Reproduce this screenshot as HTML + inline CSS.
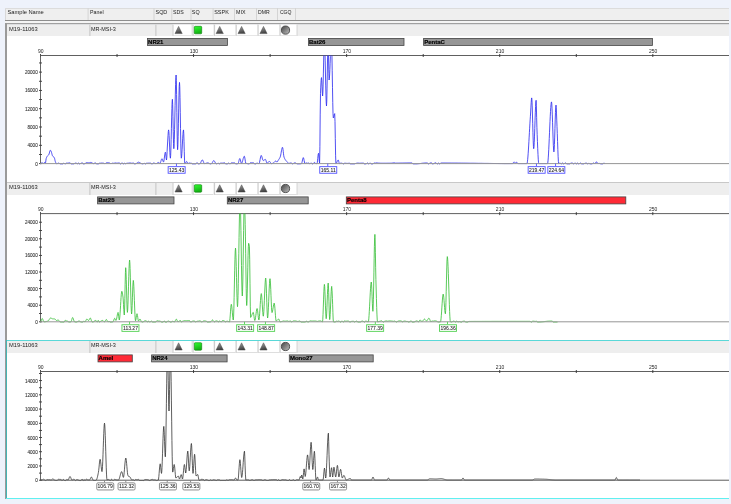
<!DOCTYPE html><html><head><meta charset="utf-8"><style>
html,body{margin:0;padding:0;background:#eef2fb;width:731px;height:504px;overflow:hidden}
svg{position:absolute;left:0;top:0;will-change:transform}
text{font-family:"Liberation Sans", sans-serif}
</style></head><body>
<svg width="731" height="504" viewBox="0 0 731 504">
<defs>
<linearGradient id="tri" x1="0.3" y1="0" x2="0.5" y2="1"><stop offset="0" stop-color="#a0a0a0"/><stop offset="1" stop-color="#3c3c3c"/></linearGradient>
<linearGradient id="grn" x1="0" y1="0" x2="0.3" y2="1"><stop offset="0" stop-color="#30ff30"/><stop offset="1" stop-color="#14b014"/></linearGradient>
<linearGradient id="cir" x1="0.2" y1="0.2" x2="0.8" y2="0.8"><stop offset="0" stop-color="#5c5c5c"/><stop offset="1" stop-color="#a8a8a8"/></linearGradient>
<clipPath id="clip0"><rect x="40" y="55.5" width="690" height="111.1"/></clipPath>
<clipPath id="clip1"><rect x="40" y="213.6" width="690" height="111.2"/></clipPath>
<clipPath id="clip2"><rect x="40" y="371.5" width="690" height="111.7"/></clipPath>
</defs>
<rect x="5" y="8" width="724" height="12" fill="#efefef"/>
<rect x="5" y="8" width="1" height="12" fill="#d8d8d8"/>
<rect x="5" y="8" width="724" height="1" fill="#dcdcdc"/>
<rect x="5" y="20" width="724" height="1" fill="#8e8e8e"/>
<rect x="5" y="21" width="724" height="2" fill="#f4f4f4"/>
<rect x="5" y="23" width="724" height="1" fill="#a0a0a0"/>
<rect x="5" y="24" width="724" height="0.6" fill="#c0c0c0"/>
<rect x="87.6" y="8" width="1" height="12" fill="#d4d4d4"/>
<rect x="153.5" y="8" width="1" height="12" fill="#d4d4d4"/>
<rect x="171.3" y="8" width="1" height="12" fill="#d4d4d4"/>
<rect x="190.5" y="8" width="1" height="12" fill="#d4d4d4"/>
<rect x="212.6" y="8" width="1" height="12" fill="#d4d4d4"/>
<rect x="234" y="8" width="1" height="12" fill="#d4d4d4"/>
<rect x="256" y="8" width="1" height="12" fill="#d4d4d4"/>
<rect x="277" y="8" width="1" height="12" fill="#d4d4d4"/>
<rect x="295" y="8" width="1" height="12" fill="#d4d4d4"/>
<text x="7.4" y="13.8" font-size="6" fill="#222" textLength="36.4" lengthAdjust="spacingAndGlyphs">Sample Name</text>
<text x="90.1" y="13.8" font-size="6" fill="#222" textLength="13.5" lengthAdjust="spacingAndGlyphs">Panel</text>
<text x="155.5" y="13.8" font-size="6" fill="#222" textLength="11.8" lengthAdjust="spacingAndGlyphs">SQD</text>
<text x="173" y="13.8" font-size="6" fill="#222" textLength="10.7" lengthAdjust="spacingAndGlyphs">SDS</text>
<text x="191.8" y="13.8" font-size="6" fill="#222" textLength="7.8" lengthAdjust="spacingAndGlyphs">SQ</text>
<text x="214.2" y="13.8" font-size="6" fill="#222" textLength="14.6" lengthAdjust="spacingAndGlyphs">SSPK</text>
<text x="236.1" y="13.8" font-size="6" fill="#222" textLength="9.5" lengthAdjust="spacingAndGlyphs">MIX</text>
<text x="258" y="13.8" font-size="6" fill="#222" textLength="11.7" lengthAdjust="spacingAndGlyphs">DMR</text>
<text x="279.9" y="13.8" font-size="6" fill="#222" textLength="11.6" lengthAdjust="spacingAndGlyphs">CGQ</text>
<rect x="7" y="24.6" width="722" height="11.6" fill="#eeeeee"/><rect x="89.4" y="24.6" width="1" height="11.6" fill="#c4c4c4"/><rect x="155.4" y="24.6" width="1" height="11.6" fill="#c4c4c4"/><rect x="172.7" y="24.6" width="18.5" height="11.6" fill="#ffffff"/><rect x="172.5" y="24.6" width="1" height="11.6" fill="#c8c8c8"/><rect x="172.7" y="35.4" width="18.5" height="0.8" fill="#d6d6d6"/><rect x="192.8" y="24.6" width="20.4" height="11.6" fill="#ffffff"/><rect x="192.6" y="24.6" width="1" height="11.6" fill="#c8c8c8"/><rect x="192.8" y="35.4" width="20.4" height="0.8" fill="#d6d6d6"/><rect x="214.3" y="24.6" width="21" height="11.6" fill="#ffffff"/><rect x="214.1" y="24.6" width="1" height="11.6" fill="#c8c8c8"/><rect x="214.3" y="35.4" width="21" height="0.8" fill="#d6d6d6"/><rect x="235.9" y="24.6" width="21.3" height="11.6" fill="#ffffff"/><rect x="235.7" y="24.6" width="1" height="11.6" fill="#c8c8c8"/><rect x="235.9" y="35.4" width="21.3" height="0.8" fill="#d6d6d6"/><rect x="257.8" y="24.6" width="21.3" height="11.6" fill="#ffffff"/><rect x="257.6" y="24.6" width="1" height="11.6" fill="#c8c8c8"/><rect x="257.8" y="35.4" width="21.3" height="0.8" fill="#d6d6d6"/><rect x="279.8" y="24.6" width="16.8" height="11.6" fill="#ffffff"/><rect x="279.6" y="24.6" width="1" height="11.6" fill="#c8c8c8"/><rect x="279.8" y="35.4" width="16.8" height="0.8" fill="#d6d6d6"/><rect x="296.6" y="24.6" width="1" height="11.6" fill="#d8d8d8"/><text x="9.1" y="30.5" font-size="6" fill="#222" textLength="28.6" lengthAdjust="spacingAndGlyphs">M19-11063</text><text x="90.9" y="30.5" font-size="6" fill="#222" textLength="25" lengthAdjust="spacingAndGlyphs">MR-MSI-3</text><path d="M178.6 26.4 L182.2 33.6 L175 33.6 Z" fill="url(#tri)" stroke="#4a4a4a" stroke-width="0.5" stroke-linejoin="round"/><rect x="194.3" y="26.3" width="7.4" height="7.5" rx="0.9" fill="url(#grn)" stroke="#0a7a0a" stroke-width="0.6"/><path d="M219.7 26.4 L223.3 33.6 L216.1 33.6 Z" fill="url(#tri)" stroke="#4a4a4a" stroke-width="0.5" stroke-linejoin="round"/><path d="M241.6 26.4 L245.2 33.6 L238 33.6 Z" fill="url(#tri)" stroke="#4a4a4a" stroke-width="0.5" stroke-linejoin="round"/><path d="M263.5 26.4 L267.1 33.6 L259.9 33.6 Z" fill="url(#tri)" stroke="#4a4a4a" stroke-width="0.5" stroke-linejoin="round"/><circle cx="285.5" cy="30.1" r="4.1" fill="url(#cir)" stroke="#454545" stroke-width="0.9"/>
<rect x="7" y="36" width="722" height="146" fill="#fff"/>
<rect x="147.5" y="38.4" width="79.9" height="7" fill="#969696" stroke="#444" stroke-width="0.8"/><text x="148.1" y="43.9" font-size="6" font-weight="bold" fill="#000" stroke="#000" stroke-width="0.15">NR21</text><rect x="308.4" y="38.4" width="95.6" height="7" fill="#969696" stroke="#444" stroke-width="0.8"/><text x="309" y="43.9" font-size="6" font-weight="bold" fill="#000" stroke="#000" stroke-width="0.15">Bat26</text><rect x="423.6" y="38.4" width="228.8" height="7" fill="#969696" stroke="#444" stroke-width="0.8"/><text x="424.2" y="43.9" font-size="6" font-weight="bold" fill="#000" stroke="#000" stroke-width="0.15">PentaC</text><rect x="40" y="55" width="689" height="1" fill="#606060"/><rect x="40.05" y="54" width="0.9" height="3" fill="#333"/><text x="40.8" y="53.3" font-size="5" fill="#222" text-anchor="middle">90</text><rect x="116.59" y="54" width="0.9" height="3" fill="#333"/><rect x="193.13" y="54" width="0.9" height="3" fill="#333"/><text x="193.88" y="53.3" font-size="5" fill="#222" text-anchor="middle">130</text><rect x="269.67" y="54" width="0.9" height="3" fill="#333"/><rect x="346.21" y="54" width="0.9" height="3" fill="#333"/><text x="346.96" y="53.3" font-size="5" fill="#222" text-anchor="middle">170</text><rect x="422.75" y="54" width="0.9" height="3" fill="#333"/><rect x="499.29" y="54" width="0.9" height="3" fill="#333"/><text x="500.04" y="53.3" font-size="5" fill="#222" text-anchor="middle">210</text><rect x="575.83" y="54" width="0.9" height="3" fill="#333"/><rect x="652.37" y="54" width="0.9" height="3" fill="#333"/><text x="653.12" y="53.3" font-size="5" fill="#222" text-anchor="middle">250</text><rect x="40" y="55" width="0.9" height="109.1" fill="#555"/><rect x="39" y="163.15" width="3" height="0.9" fill="#3a3a3a"/><text x="35.14" y="165.6" font-size="5.6" fill="#2a2a2a" stroke="#2a2a2a" stroke-width="0.08" textLength="2.56" lengthAdjust="spacingAndGlyphs">0</text><rect x="39" y="154" width="3" height="0.9" fill="#3a3a3a"/><rect x="39" y="144.85" width="3" height="0.9" fill="#3a3a3a"/><text x="27.46" y="147.3" font-size="5.6" fill="#2a2a2a" stroke="#2a2a2a" stroke-width="0.08" textLength="10.24" lengthAdjust="spacingAndGlyphs">4000</text><rect x="39" y="135.7" width="3" height="0.9" fill="#3a3a3a"/><rect x="39" y="126.55" width="3" height="0.9" fill="#3a3a3a"/><text x="27.46" y="129" font-size="5.6" fill="#2a2a2a" stroke="#2a2a2a" stroke-width="0.08" textLength="10.24" lengthAdjust="spacingAndGlyphs">8000</text><rect x="39" y="117.4" width="3" height="0.9" fill="#3a3a3a"/><rect x="39" y="108.25" width="3" height="0.9" fill="#3a3a3a"/><text x="24.9" y="110.7" font-size="5.6" fill="#2a2a2a" stroke="#2a2a2a" stroke-width="0.08" textLength="12.8" lengthAdjust="spacingAndGlyphs">12000</text><rect x="39" y="99.1" width="3" height="0.9" fill="#3a3a3a"/><rect x="39" y="89.95" width="3" height="0.9" fill="#3a3a3a"/><text x="24.9" y="92.4" font-size="5.6" fill="#2a2a2a" stroke="#2a2a2a" stroke-width="0.08" textLength="12.8" lengthAdjust="spacingAndGlyphs">16000</text><rect x="39" y="80.8" width="3" height="0.9" fill="#3a3a3a"/><rect x="39" y="71.65" width="3" height="0.9" fill="#3a3a3a"/><text x="24.9" y="74.1" font-size="5.6" fill="#2a2a2a" stroke="#2a2a2a" stroke-width="0.08" textLength="12.8" lengthAdjust="spacingAndGlyphs">20000</text><rect x="39" y="62.5" width="3" height="0.9" fill="#3a3a3a"/><polyline clip-path="url(#clip0)" points="40.5,163.6 40.75,163.54 41,163.39 41.25,163.2 41.5,163.01 41.75,162.86 42,162.8 42.25,162.84 42.5,162.96 42.75,163.1 43,163.24 43.25,163.36 43.5,163.4 43.77,163.26 44.05,162.95 44.33,162.64 44.6,162.5 44.87,162.68 45.13,163.02 45.4,163.2 45.67,162.17 45.93,160.09 46.2,158.5 46.48,157.73 46.75,157.11 47.02,156.62 47.3,156.2 47.55,155.89 47.8,155.64 48.05,155.42 48.3,155.2 48.55,154.93 48.8,154.6 49.07,153.99 49.33,153.1 49.6,152.09 49.87,151.16 50.13,150.47 50.4,150.2 50.75,150.53 51.1,151.2 51.35,151.83 51.6,152.7 51.85,153.68 52.1,154.64 52.35,155.45 52.6,156 52.88,156.35 53.17,156.58 53.45,156.77 53.73,156.97 54.02,157.22 54.3,157.6 54.55,158.31 54.8,159.43 55.05,160.6 55.3,161.5 55.57,162.19 55.85,162.8 56.12,163.29 56.4,163.6 56.7,163.81 57,163.9 57.26,163.77 57.51,163.49 57.77,163.21 58.02,163.08 58.34,163.09 58.66,163.12 58.98,163.17 59.28,163.31 59.58,163.56 59.87,163.8 60.17,163.9 60.43,163.9 60.69,163.9 60.96,163.9 61.22,163.9 61.48,163.9 61.79,163.9 62.1,163.9 62.41,163.9 62.72,163.9 63.05,163.73 63.37,163.43 63.7,163.26 63.96,163.31 64.22,163.43 64.48,163.58 64.74,163.73 65,163.85 65.26,163.9 65.53,163.77 65.8,163.5 66.07,163.22 66.34,163.1 66.62,163.1 66.89,163.11 67.16,163.12 67.44,163.13 67.72,163.14 67.99,163.14 68.29,163.09 68.6,162.98 68.91,162.87 69.21,162.82 69.52,162.83 69.84,162.86 70.15,162.91 70.43,163.1 70.72,163.43 71,163.76 71.28,163.9 71.53,163.9 71.78,163.9 72.03,163.9 72.28,163.9 72.54,163.9 72.8,163.9 73.06,163.9 73.31,163.9 73.57,163.9 73.83,163.9 74.1,163.82 74.37,163.61 74.65,163.37 74.92,163.17 75.19,163.09 75.49,163.09 75.79,163.11 76.09,163.13 76.39,163.16 76.71,163.37 77.02,163.72 77.34,163.9 77.61,163.77 77.88,163.48 78.14,163.19 78.41,163.06 78.72,163.19 79.03,163.48 79.34,163.77 79.65,163.9 79.92,163.84 80.2,163.71 80.47,163.53 80.75,163.36 81.02,163.24 81.3,163.14 81.59,163.06 81.88,162.99 82.16,162.96 82.45,163.06 82.74,163.29 83.04,163.57 83.33,163.8 83.62,163.9 83.9,163.88 84.17,163.84 84.45,163.77 84.72,163.69 85,163.6 85.25,163.47 85.5,163.27 85.75,163.04 86,162.82 86.25,162.66 86.5,162.6 86.75,162.61 87,162.62 87.25,162.64 87.5,162.67 87.75,162.7 88,162.73 88.25,162.76 88.5,162.78 88.75,162.79 89,162.8 89.25,162.78 89.5,162.74 89.75,162.67 90,162.6 90.25,162.53 90.5,162.46 90.75,162.42 91,162.4 91.25,162.43 91.5,162.52 91.75,162.66 92,162.82 92.25,163 92.5,163.18 92.75,163.34 93,163.48 93.25,163.57 93.5,163.6 93.76,163.56 94.02,163.46 94.28,163.32 94.54,163.18 94.8,163.04 95.06,162.94 95.32,162.9 95.62,163 95.91,163.25 96.21,163.55 96.5,163.8 96.8,163.9 97.08,163.9 97.36,163.9 97.64,163.9 97.93,163.9 98.21,163.9 98.49,163.9 98.8,163.76 99.1,163.45 99.41,163.14 99.72,162.99 99.97,163.03 100.23,163.1 100.48,163.18 100.74,163.21 101.05,163.17 101.37,163.1 101.68,163.07 101.93,163.07 102.18,163.08 102.44,163.09 102.69,163.1 102.94,163.12 103.19,163.14 103.45,163.18 103.71,163.25 103.97,163.34 104.22,163.44 104.48,163.52 104.74,163.58 105,163.6 105.25,163.56 105.5,163.44 105.75,163.28 106,163.1 106.25,162.92 106.5,162.76 106.75,162.64 107,162.6 107.25,162.6 107.5,162.62 107.75,162.64 108,162.66 108.25,162.69 108.5,162.72 108.75,162.76 109,162.8 109.25,162.87 109.5,162.97 109.75,163.1 110,163.24 110.25,163.38 110.5,163.49 110.75,163.57 111,163.6 111.29,163.56 111.58,163.45 111.88,163.33 112.17,163.23 112.46,163.18 112.73,163.19 113,163.22 113.28,163.25 113.55,163.27 113.82,163.28 114.08,163.26 114.34,163.19 114.6,163.11 114.87,163.03 115.13,162.96 115.39,162.94 115.65,162.96 115.9,163.01 116.16,163.07 116.41,163.11 116.67,163.14 116.99,163.13 117.3,163.12 117.62,163.11 117.9,163.08 118.19,163.03 118.47,162.97 118.76,162.92 119.04,162.9 119.3,162.98 119.56,163.16 119.82,163.4 120.08,163.64 120.34,163.83 120.6,163.9 120.9,163.78 121.2,163.52 121.5,163.25 121.8,163.13 122.11,163.15 122.41,163.21 122.72,163.28 122.98,163.41 123.24,163.62 123.5,163.81 123.76,163.9 124.07,163.68 124.39,163.28 124.7,163.06 124.95,163.19 125.2,163.48 125.46,163.77 125.71,163.9 126.01,163.76 126.31,163.45 126.62,163.13 126.92,162.99 127.24,163.07 127.56,163.21 127.88,163.29 128.15,163.25 128.42,163.18 128.68,163.09 128.95,163.01 129.22,162.98 129.48,162.98 129.74,162.98 130,162.98 130.26,162.99 130.52,162.99 130.78,163 131.06,163.05 131.34,163.15 131.62,163.26 131.9,163.31 132.2,163.26 132.5,163.15 132.79,163.03 133.09,162.98 133.37,163.05 133.65,163.22 133.93,163.44 134.2,163.66 134.48,163.83 134.76,163.9 135.07,163.87 135.38,163.8 135.69,163.7 136,163.6 136.25,163.5 136.5,163.35 136.75,163.18 137,162.99 137.25,162.8 137.5,162.62 137.75,162.45 138,162.32 138.25,162.23 138.5,162.2 138.75,162.22 139,162.29 139.25,162.38 139.5,162.5 139.75,162.65 140,162.8 140.25,162.96 140.5,163.12 140.75,163.27 141,163.4 141.25,163.52 141.5,163.6 141.75,163.67 142,163.74 142.25,163.8 142.5,163.85 142.75,163.89 143,163.9 143.27,163.8 143.55,163.58 143.82,163.36 144.09,163.26 144.36,163.33 144.64,163.49 144.91,163.67 145.19,163.83 145.46,163.9 145.76,163.76 146.06,163.48 146.36,163.31 146.66,163.27 146.96,163.24 147.26,163.22 147.56,163.2 147.84,163.18 148.11,163.16 148.39,163.15 148.67,163.13 148.94,163.12 149.22,163.12 149.48,163.12 149.74,163.13 150.01,163.14 150.27,163.15 150.53,163.17 150.82,163.26 151.11,163.44 151.39,163.65 151.68,163.83 151.97,163.9 152.24,163.84 152.51,163.68 152.78,163.48 153.05,163.27 153.32,163.12 153.59,163.05 153.86,163.07 154.13,163.12 154.39,163.2 154.66,163.28 154.93,163.37 155.2,163.46 155.46,163.53 155.73,163.58 156,163.6 156.25,163.57 156.5,163.49 156.75,163.36 157,163.21 157.25,163.05 157.5,162.89 157.75,162.74 158,162.61 158.25,162.53 158.5,162.5 158.75,162.57 159,162.73 159.25,162.95 159.5,163.17 159.75,163.33 160,163.4 160.27,163.14 160.54,162.47 160.81,161.55 161.09,160.55 161.36,159.63 161.63,158.96 161.9,158.7 162.17,158.94 162.43,159.56 162.7,160.35 162.97,161.14 163.23,161.76 163.5,162 163.77,161.46 164.04,160.06 164.31,158.14 164.59,156.06 164.86,154.14 165.13,152.74 165.4,152.2 165.68,153.42 165.95,156.1 166.22,158.78 166.5,160 166.8,157.33 167.1,151.56 167.4,146 167.7,141.04 168,135.78 168.3,131.6 168.6,129.9 168.86,131.47 169.11,135.51 169.37,141.04 169.63,147.06 169.89,152.59 170.14,156.63 170.4,158.2 170.65,155.67 170.9,149 171.15,139.56 171.4,128.75 171.65,117.94 171.9,108.5 172.15,101.83 172.4,99.3 172.68,104.44 172.96,116.69 173.24,131.31 173.52,143.56 173.8,148.7 174.06,146.17 174.31,139.4 174.57,129.59 174.82,117.97 175.08,105.73 175.33,94.11 175.59,84.3 175.84,77.53 176.1,75 176.35,80.53 176.6,94.37 176.85,112.35 177.1,130.33 177.35,144.17 177.6,149.7 177.87,145.97 178.14,136.36 178.41,123.21 178.69,108.89 178.96,95.74 179.23,86.13 179.5,82.4 179.76,86.6 180.01,97.43 180.27,112.23 180.53,128.37 180.79,143.17 181.04,154 181.3,158.2 181.58,156.98 181.85,153.78 182.12,149.25 182.4,144.05 182.68,138.85 182.95,134.32 183.22,131.12 183.5,129.9 183.76,133.4 184.02,141.76 184.28,151.74 184.54,160.1 184.8,163.6 185.07,163.48 185.34,163.18 185.61,162.77 185.89,162.33 186.16,161.92 186.43,161.62 186.7,161.5 186.96,161.72 187.22,162.24 187.48,162.86 187.74,163.38 188,163.6 188.25,163.49 188.5,163.24 188.75,162.99 189,162.88 189.3,162.94 189.61,163.06 189.91,163.18 190.21,163.24 190.54,163.19 190.87,163.08 191.2,163.03 191.52,163.25 191.83,163.67 192.15,163.9 192.42,163.9 192.68,163.9 192.94,163.9 193.21,163.9 193.5,163.9 193.8,163.9 194.09,163.9 194.39,163.9 194.69,163.9 194.99,163.9 195.29,163.9 195.62,163.78 195.94,163.52 196.27,163.27 196.58,163.08 196.88,162.89 197.19,162.81 197.47,162.93 197.75,163.2 198.02,163.52 198.3,163.79 198.58,163.9 198.86,163.88 199.15,163.84 199.43,163.78 199.72,163.7 200,163.6 200.26,163.4 200.51,163.02 200.77,162.52 201.02,161.95 201.28,161.35 201.53,160.8 201.79,160.34 202.04,160.02 202.3,159.9 202.58,160.06 202.85,160.48 203.12,161.07 203.4,161.75 203.68,162.43 203.95,163.02 204.22,163.44 204.5,163.6 204.78,163.59 205.06,163.55 205.34,163.49 205.62,163.43 205.9,163.35 206.18,163.27 206.43,163.16 206.68,163.02 206.93,162.89 207.18,162.84 207.46,162.85 207.74,162.89 208.03,162.94 208.31,163.01 208.59,163.1 208.87,163.18 209.13,163.31 209.39,163.49 209.64,163.68 209.9,163.84 210.16,163.9 210.43,163.88 210.7,163.84 210.96,163.78 211.23,163.69 211.5,163.6 211.76,163.42 212.01,163.11 212.27,162.7 212.52,162.24 212.78,161.76 213.03,161.32 213.29,160.95 213.54,160.69 213.8,160.6 214.08,160.72 214.35,161.02 214.62,161.46 214.9,161.97 215.18,162.5 215.45,162.99 215.72,163.38 216,163.6 216.25,163.71 216.5,163.81 216.75,163.87 217,163.9 217.28,163.74 217.56,163.38 217.83,163.02 218.11,162.85 218.37,163.02 218.62,163.38 218.88,163.74 219.14,163.9 219.42,163.84 219.69,163.7 219.97,163.52 220.25,163.33 220.52,163.19 220.8,163.12 221.06,163.12 221.31,163.11 221.56,163.11 221.82,163.11 222.13,163.11 222.43,163.12 222.74,163.12 223.02,163.1 223.3,163.05 223.58,162.97 223.86,162.9 224.14,162.85 224.42,162.82 224.71,162.94 225,163.2 225.3,163.52 225.59,163.79 225.88,163.9 226.18,163.9 226.47,163.9 226.77,163.9 227.07,163.9 227.32,163.84 227.58,163.7 227.83,163.51 228.08,163.32 228.34,163.18 228.59,163.12 228.84,163.18 229.1,163.32 229.35,163.51 229.6,163.7 229.86,163.84 230.11,163.9 230.38,163.74 230.65,163.39 230.92,163.04 231.19,162.87 231.47,162.86 231.75,162.85 232.03,162.84 232.32,162.84 232.6,162.83 232.88,162.83 233.14,162.83 233.4,162.84 233.66,162.84 233.91,162.85 234.17,162.85 234.43,162.86 234.73,162.98 235.03,163.24 235.32,163.54 235.62,163.79 235.92,163.9 236.18,163.9 236.44,163.88 236.7,163.86 236.96,163.82 237.22,163.78 237.48,163.73 237.74,163.67 238,163.6 238.26,163.26 238.51,162.52 238.77,161.52 239.03,160.45 239.29,159.48 239.54,158.77 239.8,158.5 240.08,158.86 240.37,159.77 240.65,160.95 240.93,162.13 241.22,163.04 241.5,163.4 241.75,163.23 242.01,162.77 242.26,162.09 242.52,161.24 242.77,160.29 243.03,159.31 243.28,158.36 243.54,157.51 243.79,156.83 244.05,156.37 244.3,156.2 244.58,156.75 244.87,158.12 245.15,159.9 245.43,161.68 245.72,163.05 246,163.6 246.25,163.55 246.5,163.44 246.75,163.33 247,163.28 247.31,163.44 247.61,163.74 247.92,163.9 248.2,163.9 248.49,163.9 248.77,163.9 249.05,163.9 249.34,163.78 249.63,163.49 249.92,163.15 250.21,162.86 250.5,162.74 250.75,162.74 251,162.75 251.26,162.75 251.51,162.75 251.76,162.76 252.04,162.76 252.32,162.75 252.6,162.75 252.89,162.74 253.17,162.74 253.45,162.74 253.75,162.92 254.04,163.32 254.34,163.72 254.64,163.9 254.91,163.9 255.18,163.9 255.45,163.9 255.72,163.9 255.99,163.77 256.25,163.47 256.52,163.17 256.79,163.04 257.07,163.06 257.34,163.13 257.62,163.22 257.89,163.32 258.17,163.42 258.45,163.51 258.72,163.58 259,163.6 259.27,163.25 259.55,162.32 259.82,161.01 260.1,159.5 260.38,157.99 260.65,156.68 260.93,155.75 261.2,155.4 261.45,155.62 261.7,156.2 261.95,157.01 262.2,157.95 262.45,158.89 262.7,159.7 262.95,160.28 263.2,160.5 263.47,160.45 263.75,160.33 264.02,160.15 264.3,159.95 264.57,159.75 264.85,159.57 265.12,159.45 265.4,159.4 265.67,159.67 265.93,160.33 266.2,161.2 266.47,162.07 266.73,162.73 267,163 267.25,162.96 267.5,162.84 267.75,162.68 268,162.47 268.25,162.25 268.5,162.03 268.75,161.82 269,161.66 269.25,161.54 269.5,161.5 269.75,161.59 270,161.83 270.25,162.16 270.5,162.55 270.75,162.94 271,163.27 271.25,163.51 271.5,163.6 271.75,163.58 272,163.53 272.25,163.46 272.5,163.36 272.75,163.24 273,163.1 273.25,162.96 273.5,162.81 273.75,162.65 274,162.5 274.28,162.27 274.57,161.96 274.85,161.62 275.13,161.31 275.42,161.09 275.7,161 275.96,161.1 276.22,161.35 276.48,161.65 276.74,161.9 277,162 277.28,161.86 277.56,161.5 277.84,161.01 278.12,160.48 278.4,160 278.66,159.62 278.91,159.25 279.17,158.88 279.43,158.48 279.69,158.05 279.94,157.56 280.2,157 280.46,156.19 280.71,155.05 280.97,153.69 281.22,152.21 281.48,150.75 281.73,149.41 281.99,148.32 282.24,147.57 282.5,147.3 282.75,147.91 283,149.48 283.25,151.58 283.5,153.81 283.75,155.75 284,157 284.25,157.7 284.5,158.3 284.75,158.8 285,159.24 285.25,159.63 285.5,160 285.76,160.35 286.01,160.67 286.27,160.96 286.53,161.23 286.79,161.49 287.04,161.74 287.3,162 287.58,162.32 287.87,162.67 288.15,163.02 288.43,163.31 288.72,163.52 289,163.6 289.25,163.49 289.5,163.26 289.75,163.03 290,162.93 290.26,162.94 290.51,162.96 290.77,162.99 291.02,163.03 291.28,163.08 291.54,163.17 291.79,163.33 292.05,163.53 292.31,163.71 292.56,163.85 292.82,163.9 293.11,163.79 293.39,163.54 293.68,163.23 293.96,162.98 294.25,162.87 294.5,162.88 294.76,162.89 295.01,162.91 295.27,162.93 295.52,162.96 295.78,163 296.04,163.12 296.29,163.34 296.55,163.6 296.8,163.81 297.06,163.9 297.31,163.9 297.57,163.9 297.82,163.9 298.08,163.9 298.33,163.9 298.59,163.9 298.85,163.9 299.12,163.89 299.38,163.88 299.65,163.86 299.91,163.84 300.18,163.81 300.44,163.78 300.71,163.75 300.97,163.7 301.24,163.65 301.5,163.6 301.76,163.23 302.01,162.35 302.27,161.18 302.53,159.92 302.79,158.77 303.04,157.93 303.3,157.6 303.58,158.04 303.87,159.16 304.15,160.6 304.43,162.04 304.72,163.16 305,163.6 305.25,163.48 305.5,163.21 305.75,162.94 306,162.82 306.31,162.89 306.61,163.05 306.92,163.21 307.22,163.28 307.5,163.26 307.77,163.21 308.05,163.15 308.32,163.09 308.6,163.04 308.87,163.02 309.13,163.16 309.39,163.46 309.65,163.76 309.91,163.9 310.17,163.74 310.42,163.39 310.68,163.04 310.93,162.88 311.19,162.95 311.45,163.14 311.71,163.39 311.96,163.63 312.22,163.82 312.48,163.9 312.73,163.84 312.99,163.68 313.24,163.46 313.49,163.2 313.74,162.94 314,162.72 314.25,162.56 314.5,162.5 314.75,162.58 315,162.79 315.25,163.05 315.5,163.31 315.75,163.52 316,163.6 316.25,163.6 316.5,163.6 316.75,163.6 317,163.6 317.25,162.84 317.5,160.93 317.75,158.45 318,155.97 318.25,154.06 318.5,153.3 318.77,154.82 319.05,158.15 319.33,161.48 319.6,163 319.9,146.69 320.2,114.89 320.5,93.3 320.75,87.13 321,82.15 321.25,78.81 321.5,77.6 321.77,80.47 322.05,86.8 322.33,93.12 322.6,96 322.86,92.9 323.11,84.9 323.37,73.96 323.63,62.04 323.89,51.1 324.14,43.1 324.4,40 324.66,42.84 324.92,50.31 325.19,60.88 325.45,73 325.71,85.12 325.98,95.69 326.24,103.16 326.5,106 326.77,101.11 327.03,88.89 327.3,73 327.57,57.11 327.83,44.89 328.1,40 328.35,46.25 328.6,60 328.85,73.75 329.1,80 329.36,78.63 329.61,74.95 329.87,69.63 330.12,63.32 330.38,56.68 330.63,50.37 330.89,45.05 331.14,41.37 331.4,40 331.67,44.32 331.94,55.46 332.21,70.7 332.49,87.3 332.76,102.54 333.03,113.68 333.3,118 333.58,117.54 333.86,116.45 334.14,115.15 334.42,114.06 334.7,113.6 335,121.41 335.3,138.6 335.6,155.79 335.9,163.6 336.16,163.48 336.41,163.15 336.67,162.67 336.92,162.1 337.18,161.5 337.43,160.93 337.69,160.45 337.94,160.12 338.2,160 338.46,160.37 338.72,161.27 338.98,162.33 339.24,163.23 339.5,163.6 339.75,163.56 340,163.47 340.25,163.35 340.5,163.24 340.75,163.15 341,163.11 341.29,163.13 341.57,163.18 341.86,163.26 342.14,163.34 342.43,163.42 342.7,163.52 342.96,163.64 343.23,163.77 343.49,163.86 343.76,163.9 344.07,163.7 344.37,163.32 344.68,163.11 344.96,163.14 345.25,163.19 345.53,163.25 345.82,163.3 346.1,163.34 346.37,163.35 346.65,163.36 346.92,163.37 347.19,163.38 347.47,163.38 347.74,163.38 348.01,163.37 348.27,163.33 348.54,163.29 348.81,163.24 349.07,163.2 349.34,163.19 349.61,163.3 349.88,163.54 350.14,163.79 350.41,163.9 350.69,163.9 350.98,163.9 351.26,163.9 351.54,163.9 351.81,163.9 352.09,163.9 352.36,163.9 352.64,163.9 352.91,163.9 353.22,163.9 353.53,163.9 353.84,163.9 354.15,163.9 354.42,163.87 354.69,163.8 354.96,163.7 355.24,163.6 355.51,163.5 355.78,163.42 356.06,163.36 356.33,163.3 356.61,163.25 356.89,163.19 357.17,163.14 357.44,163.11 357.72,163.08 358,163.07 358.27,163.09 358.54,163.11 358.81,163.15 359.08,163.18 359.35,163.21 359.62,163.22 359.89,163.22 360.17,163.21 360.44,163.19 360.71,163.17 360.99,163.16 361.26,163.15 361.52,163.14 361.79,163.14 362.05,163.13 362.32,163.13 362.58,163.13 362.89,163.14 363.19,163.16 363.5,163.2 363.76,163.33 364.02,163.57 364.28,163.8 364.54,163.9 364.8,163.9 365.05,163.9 365.31,163.9 365.57,163.9 365.82,163.9 366.08,163.9 366.34,163.8 366.59,163.56 366.85,163.28 367.1,163.05 367.36,162.95 367.63,163.05 367.9,163.28 368.17,163.56 368.44,163.8 368.71,163.9 368.97,163.82 369.23,163.62 369.5,163.38 369.76,163.18 370.02,163.1 370.27,163.16 370.53,163.31 370.78,163.5 371.04,163.69 371.3,163.84 371.55,163.9 371.82,163.9 372.09,163.9 372.36,163.9 372.63,163.9 372.9,163.9 373.18,163.74 373.46,163.4 373.74,163.06 374.02,162.9 374.28,162.92 374.54,162.97 374.81,163.03 375.07,163.07 375.33,163.09 375.58,163.07 375.83,163.01 376.08,162.94 376.33,162.86 376.58,162.8 376.83,162.78 377.08,162.8 377.33,162.86 377.59,162.93 377.84,163 378.09,163.05 378.35,163.07 378.61,163.09 378.87,163.11 379.13,163.13 379.39,163.14 379.68,163.15 379.97,163.17 380.27,163.18 380.56,163.19 380.85,163.19 381.1,163.19 381.36,163.19 381.61,163.19 381.87,163.19 382.12,163.19 382.37,163.19 382.63,163.19 382.88,163.19 383.13,163.19 383.39,163.19 383.64,163.19 383.9,163.19 384.15,163.19 384.4,163.19 384.66,163.19 384.91,163.19 385.16,163.19 385.42,163.19 385.67,163.19 385.93,163.19 386.18,163.19 386.43,163.19 386.69,163.19 386.94,163.19 387.19,163.19 387.45,163.19 387.7,163.18 387.95,163.18 388.21,163.18 388.46,163.18 388.72,163.18 388.97,163.18 389.22,163.18 389.48,163.18 389.73,163.18 389.99,163.18 390.24,163.17 390.49,163.17 390.75,163.17 391,163.17 391.27,163.16 391.55,163.13 391.82,163.1 392.1,163.05 392.38,163.01 392.65,162.97 392.92,162.93 393.18,162.88 393.45,162.84 393.72,162.79 393.98,162.76 394.25,162.75 394.53,162.81 394.81,162.92 395.08,163.04 395.36,163.1 395.61,163.1 395.86,163.1 396.12,163.09 396.37,163.09 396.62,163.09 396.87,163.09 397.12,163.09 397.38,163.09 397.63,163.08 397.88,163.08 398.13,163.08 398.39,163.07 398.64,163.07 398.89,163.07 399.14,163.06 399.39,163.06 399.65,163.05 399.9,163.05 400.15,163.05 400.4,163.04 400.65,163.04 400.91,163.03 401.16,163.03 401.41,163.02 401.66,163.02 401.92,163.01 402.17,163 402.42,163 402.67,162.99 402.92,162.99 403.18,162.98 403.43,162.98 403.68,162.97 403.93,162.96 404.18,162.96 404.44,162.95 404.69,162.95 404.94,162.94 405.19,162.94 405.44,162.93 405.7,162.93 405.95,162.92 406.2,162.91 406.45,162.91 406.71,162.9 406.96,162.9 407.21,162.89 407.46,162.89 407.71,162.89 407.97,162.88 408.22,162.88 408.47,162.87 408.72,162.87 408.97,162.87 409.23,162.86 409.48,162.86 409.73,162.86 409.98,162.85 410.24,162.85 410.49,162.85 410.74,162.85 410.99,162.85 411.24,162.85 411.5,162.84 411.75,162.84 412,162.84 412.25,163.01 412.5,163.37 412.76,163.74 413.01,163.9 413.26,163.9 413.51,163.9 413.76,163.9 414.01,163.9 414.26,163.9 414.53,163.9 414.81,163.9 415.09,163.9 415.36,163.9 415.61,163.9 415.87,163.89 416.12,163.89 416.37,163.88 416.63,163.87 416.88,163.85 417.13,163.84 417.38,163.82 417.64,163.8 417.89,163.78 418.14,163.75 418.4,163.73 418.65,163.7 418.9,163.68 419.16,163.65 419.41,163.62 419.66,163.59 419.91,163.56 420.17,163.53 420.42,163.5 420.67,163.46 420.93,163.43 421.18,163.4 421.43,163.36 421.69,163.33 421.94,163.3 422.19,163.27 422.45,163.24 422.7,163.2 422.95,163.17 423.2,163.15 423.46,163.12 423.71,163.09 423.96,163.06 424.22,163.04 424.47,163.02 424.72,162.99 424.98,162.98 425.23,162.96 425.48,162.94 425.73,162.93 425.99,162.92 426.24,162.91 426.49,162.9 426.75,162.9 427,162.89 427.27,162.97 427.54,163.16 427.81,163.4 428.08,163.64 428.35,163.83 428.62,163.9 428.91,163.82 429.21,163.63 429.5,163.38 429.8,163.15 430.09,163.01 430.34,162.93 430.6,162.87 430.85,162.82 431.1,162.81 431.38,162.89 431.66,163.09 431.94,163.35 432.22,163.62 432.5,163.82 432.78,163.9 433.06,163.87 433.33,163.78 433.61,163.65 433.89,163.51 434.16,163.37 434.44,163.24 434.7,163.12 434.96,162.98 435.21,162.85 435.47,162.75 435.73,162.71 435.99,162.8 436.25,163.02 436.51,163.3 436.78,163.59 437.04,163.81 437.3,163.9 437.61,163.78 437.92,163.52 438.23,163.26 438.54,163.14 438.83,163.26 439.12,163.52 439.42,163.78 439.71,163.9 440,163.75 440.29,163.43 440.58,163.1 440.87,162.95 441.12,162.95 441.37,162.95 441.62,162.95 441.87,162.95 442.12,162.95 442.37,162.95 442.62,162.95 442.87,162.95 443.12,162.95 443.37,162.95 443.62,162.95 443.88,162.95 444.13,162.95 444.38,162.95 444.63,162.96 444.88,162.96 445.13,162.96 445.38,162.96 445.63,162.96 445.88,162.96 446.13,162.96 446.38,162.96 446.63,162.96 446.88,162.96 447.13,162.96 447.38,162.97 447.63,162.97 447.88,162.97 448.13,162.97 448.38,162.97 448.63,162.97 448.88,162.97 449.13,162.97 449.39,162.98 449.64,162.98 449.89,162.98 450.14,162.98 450.39,162.98 450.64,162.98 450.89,162.98 451.14,162.99 451.39,162.99 451.64,162.99 451.89,162.99 452.14,162.99 452.39,163 452.64,163 452.89,163 453.14,163 453.39,163 453.64,163 453.89,163.01 454.14,163.01 454.39,163.01 454.64,163.01 454.9,163.02 455.15,163.02 455.4,163.02 455.65,163.02 455.9,163.02 456.15,163.03 456.4,163.03 456.65,163.03 456.9,163.03 457.15,163.04 457.4,163.04 457.65,163.04 457.9,163.04 458.15,163.05 458.4,163.05 458.65,163.05 458.9,163.05 459.15,163.06 459.4,163.06 459.65,163.06 459.9,163.06 460.15,163.07 460.41,163.07 460.66,163.07 460.91,163.07 461.16,163.08 461.41,163.08 461.66,163.08 461.91,163.09 462.16,163.09 462.41,163.09 462.66,163.09 462.91,163.1 463.16,163.1 463.41,163.1 463.66,163.11 463.91,163.11 464.16,163.11 464.41,163.11 464.66,163.12 464.91,163.12 465.16,163.12 465.41,163.13 465.67,163.13 465.92,163.13 466.17,163.14 466.42,163.14 466.67,163.14 466.92,163.15 467.17,163.15 467.42,163.15 467.67,163.15 467.92,163.16 468.17,163.16 468.42,163.16 468.67,163.17 468.92,163.17 469.17,163.17 469.42,163.18 469.67,163.18 469.92,163.18 470.17,163.19 470.42,163.19 470.67,163.19 470.92,163.2 471.18,163.2 471.43,163.2 471.68,163.21 471.93,163.21 472.18,163.21 472.43,163.22 472.68,163.22 472.93,163.22 473.18,163.23 473.43,163.23 473.68,163.23 473.93,163.24 474.18,163.24 474.43,163.24 474.68,163.25 474.93,163.25 475.18,163.25 475.43,163.26 475.68,163.26 475.93,163.26 476.18,163.27 476.43,163.27 476.69,163.28 476.94,163.28 477.19,163.28 477.44,163.29 477.69,163.29 477.94,163.29 478.19,163.3 478.44,163.3 478.69,163.3 478.94,163.31 479.19,163.31 479.44,163.31 479.69,163.32 479.94,163.32 480.19,163.32 480.44,163.33 480.69,163.33 480.94,163.33 481.19,163.34 481.44,163.34 481.69,163.34 481.94,163.35 482.19,163.35 482.45,163.35 482.7,163.36 482.95,163.36 483.2,163.36 483.45,163.37 483.7,163.37 483.95,163.37 484.2,163.38 484.45,163.38 484.7,163.38 484.95,163.39 485.2,163.39 485.45,163.39 485.7,163.4 485.95,163.4 486.2,163.4 486.45,163.4 486.7,163.41 486.95,163.41 487.2,163.41 487.45,163.42 487.7,163.42 487.96,163.42 488.21,163.43 488.46,163.43 488.71,163.43 488.96,163.44 489.21,163.44 489.46,163.44 489.71,163.44 489.96,163.45 490.21,163.45 490.46,163.45 490.71,163.46 490.96,163.46 491.21,163.46 491.46,163.46 491.71,163.47 491.96,163.47 492.21,163.47 492.46,163.48 492.71,163.48 492.96,163.48 493.21,163.48 493.47,163.49 493.72,163.49 493.97,163.49 494.22,163.49 494.47,163.5 494.72,163.5 494.97,163.5 495.22,163.5 495.47,163.51 495.72,163.51 495.97,163.51 496.22,163.51 496.47,163.52 496.72,163.52 496.97,163.52 497.22,163.52 497.47,163.53 497.72,163.53 497.97,163.53 498.22,163.53 498.47,163.54 498.73,163.54 498.98,163.54 499.23,163.54 499.48,163.54 499.73,163.55 499.98,163.55 500.23,163.55 500.48,163.55 500.73,163.55 500.98,163.55 501.23,163.56 501.48,163.56 501.73,163.56 501.98,163.56 502.23,163.56 502.48,163.57 502.73,163.57 502.98,163.57 503.23,163.57 503.48,163.57 503.73,163.57 503.98,163.57 504.24,163.58 504.49,163.58 504.74,163.58 504.99,163.58 505.24,163.58 505.49,163.58 505.74,163.58 505.99,163.58 506.24,163.59 506.49,163.59 506.74,163.59 506.99,163.59 507.24,163.59 507.49,163.59 507.74,163.59 507.99,163.59 508.24,163.59 508.49,163.59 508.74,163.59 508.99,163.6 509.24,163.6 509.49,163.6 509.75,163.6 510,163.6 510.25,163.6 510.5,163.6 510.75,163.6 511,163.6 511.25,163.6 511.5,163.6 511.75,163.6 512,163.6 512.25,163.6 512.5,163.6 512.75,163.48 513,163.19 513.25,162.8 513.5,162.41 513.75,162.12 514,162 514.25,162.07 514.5,162.26 514.75,162.5 515,162.74 515.25,162.93 515.5,163 515.77,162.88 516.05,162.6 516.33,162.32 516.6,162.2 516.88,162.35 517.16,162.69 517.44,163.11 517.72,163.45 518,163.6 518.25,163.6 518.51,163.6 518.76,163.6 519.02,163.6 519.27,163.6 519.53,163.6 519.78,163.6 520.03,163.6 520.29,163.6 520.54,163.6 520.8,163.6 521.05,163.6 521.31,163.6 521.56,163.6 521.81,163.6 522.07,163.6 522.32,163.6 522.58,163.6 522.83,163.6 523.09,163.6 523.34,163.6 523.59,163.6 523.85,163.6 524.1,163.6 524.36,163.6 524.61,163.6 524.87,163.6 525.12,163.6 525.37,163.6 525.63,163.6 525.88,163.6 526.14,163.6 526.39,163.6 526.65,163.6 526.9,163.6 527.15,163.14 527.4,161.82 527.65,159.75 527.9,157.03 528.15,153.75 528.4,150.03 528.65,145.96 528.9,141.64 529.15,137.17 529.4,132.66 529.65,128.21 529.9,123.91 530.15,119.88 530.4,116.2 530.66,111.99 530.92,107.17 531.18,102.61 531.44,99.23 531.7,97.9 531.95,100.08 532.2,105.84 532.45,113.97 532.7,123.3 532.95,132.63 533.2,140.76 533.45,146.52 533.7,148.7 533.97,147.04 534.23,142.59 534.5,136.15 534.77,128.52 535.03,120.48 535.3,112.85 535.57,106.41 535.83,101.96 536.1,100.3 536.37,105.8 536.63,117.3 536.9,127.3 537.17,134.37 537.44,141.52 537.71,148.33 537.99,154.37 538.26,159.21 538.53,162.43 538.8,163.6 539.06,163.6 539.31,163.6 539.57,163.6 539.82,163.6 540.08,163.6 540.34,163.6 540.59,163.6 540.85,163.6 541.1,163.6 541.36,163.6 541.61,163.6 541.87,163.6 542.13,163.6 542.38,163.6 542.64,163.6 542.89,163.6 543.15,163.6 543.41,163.6 543.66,163.6 543.92,163.6 544.17,163.6 544.43,163.6 544.69,163.6 544.94,163.6 545.2,163.6 545.45,163.6 545.71,163.6 545.96,163.6 546.22,163.6 546.48,163.6 546.73,163.6 546.99,163.6 547.24,163.6 547.5,163.6 547.75,162.91 548,160.95 548.25,157.91 548.5,153.96 548.75,149.29 549,144.08 549.25,138.5 549.5,132.75 549.75,127 550,121.42 550.25,116.21 550.5,111.54 550.75,107.59 551,104.55 551.25,102.59 551.5,101.9 551.77,103.61 552.03,108.21 552.3,114.86 552.57,122.75 552.83,131.05 553.1,138.94 553.37,145.59 553.63,150.19 553.9,151.9 554.16,149.89 554.42,144.59 554.69,137.09 554.95,128.5 555.21,119.91 555.48,112.41 555.74,107.11 556,105.1 556.25,107.43 556.5,113.1 556.75,120.12 557,126.5 557.28,133.5 557.57,141.56 557.85,149.64 558.13,156.7 558.42,161.7 558.7,163.6 558.96,163.55 559.22,163.44 559.48,163.31 559.74,163.2 560,163.16 560.25,163.23 560.5,163.42 560.75,163.64 561,163.82 561.25,163.9 561.54,163.78 561.84,163.5 562.13,163.23 562.42,163.1 562.68,163.18 562.94,163.38 563.21,163.62 563.47,163.82 563.73,163.9 564.01,163.83 564.29,163.66 564.58,163.43 564.86,163.21 565.14,163.04 565.42,162.97 565.7,163.04 565.98,163.21 566.25,163.43 566.53,163.66 566.81,163.83 567.09,163.9 567.37,163.9 567.65,163.9 567.93,163.9 568.21,163.9 568.46,163.9 568.72,163.9 568.97,163.9 569.22,163.9 569.48,163.9 569.73,163.9 569.98,163.81 570.23,163.62 570.48,163.41 570.73,163.26 571,163.18 571.27,163.1 571.55,163.04 571.82,162.99 572.09,162.96 572.36,162.94 572.64,163.09 572.91,163.42 573.19,163.75 573.47,163.9 573.74,163.84 574.01,163.7 574.29,163.52 574.56,163.34 574.83,163.2 575.1,163.14 575.39,163.22 575.68,163.41 575.98,163.63 576.27,163.82 576.56,163.9 576.88,163.68 577.19,163.27 577.51,163.05 577.82,163.18 578.13,163.47 578.44,163.77 578.75,163.9 579.02,163.84 579.3,163.69 579.58,163.5 579.85,163.3 580.12,163.15 580.4,163.09 580.66,163.15 580.91,163.3 581.17,163.5 581.43,163.69 581.68,163.84 581.94,163.9 582.21,163.9 582.47,163.9 582.74,163.9 583,163.9 583.26,163.9 583.53,163.9 583.79,163.86 584.06,163.74 584.33,163.59 584.59,163.44 584.86,163.31 585.12,163.24 585.41,163.21 585.7,163.18 586,163.16 586.29,163.16 586.56,163.21 586.84,163.35 587.11,163.53 587.38,163.71 587.66,163.85 587.93,163.9 588.18,163.79 588.43,163.54 588.68,163.29 588.93,163.18 589.2,163.29 589.47,163.54 589.75,163.79 590.02,163.9 590.28,163.9 590.53,163.9 590.79,163.9 591.05,163.9 591.31,163.9 591.58,163.9 591.85,163.9 592.11,163.9 592.4,163.76 592.68,163.45 592.97,163.13 593.26,162.99 593.55,163.04 593.84,163.15 594.13,163.3 594.42,163.44 594.71,163.55 595,163.6 595.28,163.41 595.56,162.97 595.84,162.43 596.12,161.99 596.4,161.8 596.67,161.93 596.93,162.27 597.2,162.7 597.47,163.13 597.73,163.47 598,163.6 598.25,163.56 598.5,163.47 598.75,163.39 599,163.35 599.25,163.38 599.5,163.44 599.75,163.53 600,163.6 600.31,163.69 600.61,163.79 600.91,163.87 601.22,163.9 601.5,163.9 601.77,163.9 602.05,163.9 602.32,163.9 602.62,163.84 602.92,163.7 603.21,163.53 603.51,163.38 603.81,163.32 604.07,163.33 604.34,163.34 604.6,163.36 604.86,163.36" fill="none" stroke="#3030f0" stroke-width="0.85" stroke-linejoin="miter" stroke-miterlimit="20"/><rect x="40" y="163.1" width="689" height="1" fill="#969696"/><rect x="175.95" y="163.6" width="0.9" height="2.6" fill="#5050ff"/><rect x="168.15" y="166.65" width="17" height="6.6" rx="0" fill="#fff" stroke="#5050ff" stroke-width="0.9"/><text x="176.65" y="171.8" font-size="5" fill="#1a1a1a" stroke="#1a1a1a" stroke-width="0.05" text-anchor="middle">125.43</text><rect x="327.35" y="163.6" width="0.9" height="2.6" fill="#5050ff"/><rect x="319.75" y="166.65" width="17" height="6.6" rx="0" fill="#fff" stroke="#5050ff" stroke-width="0.9"/><text x="328.25" y="171.8" font-size="5" fill="#1a1a1a" stroke="#1a1a1a" stroke-width="0.05" text-anchor="middle">165.11</text><rect x="535.95" y="163.6" width="0.9" height="2.6" fill="#5050ff"/><rect x="528.15" y="166.65" width="17" height="6.6" rx="0" fill="#fff" stroke="#5050ff" stroke-width="0.9"/><text x="536.65" y="171.8" font-size="5" fill="#1a1a1a" stroke="#1a1a1a" stroke-width="0.05" text-anchor="middle">219.47</text><rect x="555.15" y="163.6" width="0.9" height="2.6" fill="#5050ff"/><rect x="547.85" y="166.65" width="17" height="6.6" rx="0" fill="#fff" stroke="#5050ff" stroke-width="0.9"/><text x="556.35" y="171.8" font-size="5" fill="#1a1a1a" stroke="#1a1a1a" stroke-width="0.05" text-anchor="middle">224.64</text>
<rect x="7" y="182" width="722" height="1" fill="#c8c8c8"/>
<rect x="7" y="183" width="722" height="12" fill="#eeeeee"/><rect x="89.4" y="183" width="1" height="12" fill="#c4c4c4"/><rect x="155.4" y="183" width="1" height="12" fill="#c4c4c4"/><rect x="172.7" y="183" width="18.5" height="12" fill="#ffffff"/><rect x="172.5" y="183" width="1" height="12" fill="#c8c8c8"/><rect x="172.7" y="194.2" width="18.5" height="0.8" fill="#d6d6d6"/><rect x="192.8" y="183" width="20.4" height="12" fill="#ffffff"/><rect x="192.6" y="183" width="1" height="12" fill="#c8c8c8"/><rect x="192.8" y="194.2" width="20.4" height="0.8" fill="#d6d6d6"/><rect x="214.3" y="183" width="21" height="12" fill="#ffffff"/><rect x="214.1" y="183" width="1" height="12" fill="#c8c8c8"/><rect x="214.3" y="194.2" width="21" height="0.8" fill="#d6d6d6"/><rect x="235.9" y="183" width="21.3" height="12" fill="#ffffff"/><rect x="235.7" y="183" width="1" height="12" fill="#c8c8c8"/><rect x="235.9" y="194.2" width="21.3" height="0.8" fill="#d6d6d6"/><rect x="257.8" y="183" width="21.3" height="12" fill="#ffffff"/><rect x="257.6" y="183" width="1" height="12" fill="#c8c8c8"/><rect x="257.8" y="194.2" width="21.3" height="0.8" fill="#d6d6d6"/><rect x="279.8" y="183" width="16.8" height="12" fill="#ffffff"/><rect x="279.6" y="183" width="1" height="12" fill="#c8c8c8"/><rect x="279.8" y="194.2" width="16.8" height="0.8" fill="#d6d6d6"/><rect x="296.6" y="183" width="1" height="12" fill="#d8d8d8"/><text x="9.1" y="189.2" font-size="6" fill="#222" textLength="28.6" lengthAdjust="spacingAndGlyphs">M19-11063</text><text x="90.9" y="189.2" font-size="6" fill="#222" textLength="25" lengthAdjust="spacingAndGlyphs">MR-MSI-3</text><path d="M178.6 184.8 L182.2 192 L175 192 Z" fill="url(#tri)" stroke="#4a4a4a" stroke-width="0.5" stroke-linejoin="round"/><rect x="194.3" y="184.7" width="7.4" height="7.5" rx="0.9" fill="url(#grn)" stroke="#0a7a0a" stroke-width="0.6"/><path d="M219.7 184.8 L223.3 192 L216.1 192 Z" fill="url(#tri)" stroke="#4a4a4a" stroke-width="0.5" stroke-linejoin="round"/><path d="M241.6 184.8 L245.2 192 L238 192 Z" fill="url(#tri)" stroke="#4a4a4a" stroke-width="0.5" stroke-linejoin="round"/><path d="M263.5 184.8 L267.1 192 L259.9 192 Z" fill="url(#tri)" stroke="#4a4a4a" stroke-width="0.5" stroke-linejoin="round"/><circle cx="285.5" cy="188.5" r="4.1" fill="url(#cir)" stroke="#454545" stroke-width="0.9"/>
<rect x="7" y="195" width="722" height="145" fill="#fff"/>
<rect x="97.6" y="196.9" width="76.4" height="7" fill="#969696" stroke="#444" stroke-width="0.8"/><text x="98.2" y="202.4" font-size="6" font-weight="bold" fill="#000" stroke="#000" stroke-width="0.15">Bat25</text><rect x="227.3" y="196.9" width="80.9" height="7" fill="#969696" stroke="#444" stroke-width="0.8"/><text x="227.9" y="202.4" font-size="6" font-weight="bold" fill="#000" stroke="#000" stroke-width="0.15">NR27</text><rect x="346.3" y="196.9" width="279.5" height="7" fill="#ff2a36" stroke="#444" stroke-width="0.8"/><text x="346.9" y="202.4" font-size="6" font-weight="bold" fill="#000" stroke="#000" stroke-width="0.15">Penta8</text><rect x="40" y="213.1" width="689" height="1" fill="#606060"/><rect x="40.05" y="212.1" width="0.9" height="3" fill="#333"/><text x="40.8" y="211.4" font-size="5" fill="#222" text-anchor="middle">90</text><rect x="116.59" y="212.1" width="0.9" height="3" fill="#333"/><rect x="193.13" y="212.1" width="0.9" height="3" fill="#333"/><text x="193.88" y="211.4" font-size="5" fill="#222" text-anchor="middle">130</text><rect x="269.67" y="212.1" width="0.9" height="3" fill="#333"/><rect x="346.21" y="212.1" width="0.9" height="3" fill="#333"/><text x="346.96" y="211.4" font-size="5" fill="#222" text-anchor="middle">170</text><rect x="422.75" y="212.1" width="0.9" height="3" fill="#333"/><rect x="499.29" y="212.1" width="0.9" height="3" fill="#333"/><text x="500.04" y="211.4" font-size="5" fill="#222" text-anchor="middle">210</text><rect x="575.83" y="212.1" width="0.9" height="3" fill="#333"/><rect x="652.37" y="212.1" width="0.9" height="3" fill="#333"/><text x="653.12" y="211.4" font-size="5" fill="#222" text-anchor="middle">250</text><rect x="40" y="213.1" width="0.9" height="109.2" fill="#555"/><rect x="39" y="321.35" width="3" height="0.9" fill="#3a3a3a"/><text x="35.14" y="323.8" font-size="5.6" fill="#2a2a2a" stroke="#2a2a2a" stroke-width="0.08" textLength="2.56" lengthAdjust="spacingAndGlyphs">0</text><rect x="39" y="313.05" width="3" height="0.9" fill="#3a3a3a"/><rect x="39" y="304.75" width="3" height="0.9" fill="#3a3a3a"/><text x="27.46" y="307.2" font-size="5.6" fill="#2a2a2a" stroke="#2a2a2a" stroke-width="0.08" textLength="10.24" lengthAdjust="spacingAndGlyphs">4000</text><rect x="39" y="296.45" width="3" height="0.9" fill="#3a3a3a"/><rect x="39" y="288.15" width="3" height="0.9" fill="#3a3a3a"/><text x="27.46" y="290.6" font-size="5.6" fill="#2a2a2a" stroke="#2a2a2a" stroke-width="0.08" textLength="10.24" lengthAdjust="spacingAndGlyphs">8000</text><rect x="39" y="279.85" width="3" height="0.9" fill="#3a3a3a"/><rect x="39" y="271.55" width="3" height="0.9" fill="#3a3a3a"/><text x="24.9" y="274" font-size="5.6" fill="#2a2a2a" stroke="#2a2a2a" stroke-width="0.08" textLength="12.8" lengthAdjust="spacingAndGlyphs">12000</text><rect x="39" y="263.25" width="3" height="0.9" fill="#3a3a3a"/><rect x="39" y="254.95" width="3" height="0.9" fill="#3a3a3a"/><text x="24.9" y="257.4" font-size="5.6" fill="#2a2a2a" stroke="#2a2a2a" stroke-width="0.08" textLength="12.8" lengthAdjust="spacingAndGlyphs">16000</text><rect x="39" y="246.65" width="3" height="0.9" fill="#3a3a3a"/><rect x="39" y="238.35" width="3" height="0.9" fill="#3a3a3a"/><text x="24.9" y="240.8" font-size="5.6" fill="#2a2a2a" stroke="#2a2a2a" stroke-width="0.08" textLength="12.8" lengthAdjust="spacingAndGlyphs">20000</text><rect x="39" y="230.05" width="3" height="0.9" fill="#3a3a3a"/><rect x="39" y="221.75" width="3" height="0.9" fill="#3a3a3a"/><text x="24.9" y="224.2" font-size="5.6" fill="#2a2a2a" stroke="#2a2a2a" stroke-width="0.08" textLength="12.8" lengthAdjust="spacingAndGlyphs">24000</text><polyline clip-path="url(#clip1)" points="40.5,321.8 40.78,321.56 41.07,320.94 41.35,320.15 41.63,319.36 41.92,318.74 42.2,318.5 42.46,318.68 42.71,319.15 42.97,319.8 43.23,320.5 43.49,321.15 43.74,321.62 44,321.8 44.25,321.8 44.5,321.79 44.75,321.77 45,321.74 45.25,321.71 45.5,321.67 45.75,321.63 46,321.58 46.25,321.52 46.5,321.46 46.75,321.4 47,321.33 47.25,321.25 47.5,321.17 47.75,321.09 48,321 48.26,320.84 48.52,320.57 48.78,320.21 49.04,319.81 49.3,319.38 49.56,318.97 49.82,318.59 50.08,318.28 50.34,318.08 50.6,318 50.87,318.04 51.14,318.14 51.41,318.29 51.69,318.45 51.96,318.6 52.23,318.73 52.5,318.8 52.77,318.83 53.03,318.86 53.3,318.87 53.57,318.89 53.83,318.9 54.1,318.92 54.37,318.94 54.63,318.96 54.9,319 55.17,319.14 55.43,319.43 55.7,319.78 55.97,320.13 56.23,320.39 56.5,320.5 56.78,320.46 57.07,320.37 57.35,320.25 57.63,320.13 57.92,320.04 58.2,320 58.46,320.09 58.71,320.31 58.97,320.63 59.23,320.98 59.49,321.33 59.74,321.62 60,321.8 60.25,321.91 60.5,322 60.75,322.07 61,322.1 61.28,322.1 61.56,322.1 61.84,322.1 62.11,322.1 62.39,322.1 62.67,322.1 62.96,322.1 63.25,322.1 63.55,322.1 63.84,322.1 64.13,322.1 64.41,321.82 64.68,321.2 64.95,320.58 65.23,320.3 65.5,320.37 65.77,320.53 66.03,320.71 66.3,320.84 66.55,320.9 66.81,320.95 67.06,321 67.32,321.05 67.57,321.12 67.83,321.28 68.09,321.53 68.34,321.8 68.6,322.01 68.86,322.1 69.13,322.1 69.39,322.08 69.66,322.06 69.93,322.02 70.2,321.98 70.47,321.93 70.73,321.87 71,321.8 71.27,321.43 71.53,320.62 71.8,319.59 72.07,318.58 72.33,317.81 72.6,317.5 72.87,317.73 73.14,318.31 73.41,319.12 73.69,320.01 73.96,320.85 74.23,321.49 74.5,321.8 74.75,321.88 75,321.96 75.25,322.02 75.5,322.06 75.75,322.09 76,322.1 76.27,322.1 76.55,322.1 76.82,322.1 77.09,322.1 77.37,321.95 77.65,321.62 77.92,321.3 78.2,321.15 78.47,321.15 78.74,321.15 79.01,321.16 79.28,321.17 79.55,321.18 79.82,321.19 80.15,321.44 80.48,321.87 80.81,322.1 81.09,322.1 81.38,322.1 81.66,322.1 81.94,322.1 82.23,322.1 82.51,322.1 82.79,322.01 83.07,321.78 83.34,321.51 83.62,321.29 83.9,321.2 84.18,321.29 84.45,321.5 84.72,321.71 85,321.8 85.27,321.64 85.54,321.24 85.81,320.7 86.09,320.1 86.36,319.56 86.63,319.16 86.9,319 87.17,319.11 87.43,319.39 87.7,319.75 87.97,320.11 88.23,320.39 88.5,320.5 88.76,320.36 89.01,320 89.27,319.52 89.53,318.98 89.79,318.5 90.04,318.14 90.3,318 90.58,318.26 90.87,318.92 91.15,319.79 91.43,320.69 91.72,321.42 92,321.8 92.25,321.92 92.5,322.01 92.75,322.08 93,322.1 93.29,322.02 93.58,321.81 93.87,321.53 94.16,321.26 94.45,321.05 94.73,320.89 95.02,320.73 95.3,320.59 95.59,320.49 95.87,320.45 96.14,320.62 96.42,321.03 96.69,321.52 96.97,321.93 97.24,322.1 97.56,321.65 97.87,320.83 98.19,320.38 98.45,320.56 98.71,320.99 98.96,321.49 99.22,321.92 99.48,322.1 99.76,322.03 100.03,321.85 100.31,321.6 100.59,321.34 100.86,321.1 101.14,320.93 101.44,320.8 101.73,320.68 102.03,320.58 102.32,320.51 102.62,320.48 102.89,320.55 103.16,320.74 103.43,321 103.69,321.28 103.96,321.54 104.23,321.73 104.5,321.8 104.76,321.67 105.01,321.34 105.27,320.89 105.53,320.41 105.79,319.96 106.04,319.63 106.3,319.5 106.58,319.67 106.87,320.1 107.15,320.65 107.43,321.2 107.72,321.63 108,321.8 108.25,321.73 108.5,321.59 108.75,321.44 109,321.37 109.27,321.43 109.53,321.56 109.8,321.74 110.07,321.91 110.33,322.05 110.6,322.1 110.87,322.1 111.13,322.09 111.4,322.07 111.67,322.04 111.93,322.01 112.2,321.97 112.47,321.92 112.73,321.86 113,321.8 113.28,321.49 113.57,320.83 113.85,320 114.13,319.18 114.42,318.55 114.7,318.3 114.96,318.53 115.22,319.07 115.48,319.73 115.74,320.27 116,320.5 116.26,320.15 116.53,319.23 116.79,317.94 117.05,316.45 117.31,314.96 117.57,313.67 117.84,312.75 118.1,312.4 118.4,313.59 118.7,316.2 119,318.81 119.3,320 119.55,319.2 119.8,317.02 120.05,313.8 120.3,309.9 120.55,305.65 120.8,301.4 121.05,297.5 121.3,294.28 121.55,292.1 121.8,291.3 122.1,291.8 122.4,293.1 122.7,294.92 123,297 123.26,300.04 123.52,304.65 123.78,309.54 124.04,313.42 124.3,315 124.58,310.08 124.86,298.35 125.14,284.35 125.42,272.62 125.7,267.7 125.98,271.01 126.27,279.29 126.55,290.05 126.83,300.81 127.12,309.09 127.4,312.4 127.68,310.15 127.95,304.23 128.22,295.85 128.5,286.25 128.78,276.65 129.05,268.27 129.32,262.35 129.6,260.1 129.85,262.42 130.1,268.52 130.35,277.15 130.6,287.05 130.85,296.95 131.1,305.58 131.35,311.68 131.6,314 131.88,311.51 132.17,305.29 132.45,297.2 132.73,289.11 133.02,282.89 133.3,280.4 133.58,282.14 133.85,286.71 134.12,293.18 134.4,300.6 134.68,308.02 134.95,314.49 135.22,319.06 135.5,320.8 135.75,320.27 136,318.96 136.25,317.25 136.5,315.54 136.75,314.23 137,313.7 137.25,314.24 137.5,315.59 137.75,317.35 138,319.11 138.25,320.46 138.5,321 138.75,320.85 139,320.48 139.25,320 139.5,319.52 139.75,319.15 140,319 140.25,319.19 140.5,319.69 140.75,320.33 141,320.99 141.25,321.53 141.5,321.8 141.75,321.88 142,321.96 142.25,322.02 142.5,322.06 142.75,322.09 143,322.1 143.29,321.98 143.58,321.7 143.87,321.36 144.16,321.05 144.45,320.89 144.73,320.84 145,320.79 145.28,320.75 145.56,320.73 145.83,320.71 146.11,320.7 146.37,320.85 146.63,321.2 146.9,321.61 147.16,321.95 147.42,322.1 147.67,321.95 147.93,321.61 148.19,321.27 148.44,321.11 148.7,321.22 148.96,321.46 149.22,321.75 149.48,322 149.74,322.1 150.01,322.03 150.28,321.85 150.56,321.62 150.83,321.39 151.1,321.21 151.37,321.14 151.66,321.24 151.95,321.48 152.25,321.76 152.54,322 152.83,322.1 153.1,322.1 153.38,322.1 153.65,322.1 153.92,322.1 154.21,322.1 154.51,322.1 154.81,322.1 155.1,322.1 155.41,322.01 155.72,321.79 156.03,321.52 156.34,321.31 156.6,321.17 156.86,321.02 157.12,320.87 157.38,320.75 157.64,320.67 157.9,320.64 158.16,320.74 158.42,320.96 158.68,321.18 158.94,321.28 159.2,321.23 159.46,321.11 159.72,320.99 159.98,320.94 160.26,321.02 160.54,321.24 160.82,321.52 161.1,321.8 161.38,322.01 161.66,322.1 161.91,322.1 162.16,322.1 162.41,322.1 162.67,322.1 162.92,322.1 163.17,322.1 163.47,321.76 163.78,321.14 164.08,320.81 164.37,321.01 164.67,321.45 164.96,321.9 165.25,322.1 165.5,322.1 165.75,322.1 166,322.1 166.25,322.1 166.5,322.1 166.81,321.98 167.12,321.7 167.42,321.4 167.73,321.22 168.04,321.15 168.34,321.09 168.65,321.05 168.96,321.03 169.24,321.2 169.53,321.57 169.81,321.93 170.09,322.1 170.41,322.1 170.74,322.1 171.06,322.1 171.32,322.02 171.59,321.83 171.85,321.6 172.12,321.41 172.38,321.33 172.64,321.35 172.91,321.4 173.18,321.48 173.44,321.57 173.7,321.65 173.97,321.73 174.24,321.78 174.5,321.8 174.76,321.66 175.01,321.28 175.27,320.78 175.53,320.22 175.79,319.72 176.04,319.34 176.3,319.2 176.58,319.39 176.87,319.87 177.15,320.5 177.43,321.13 177.72,321.61 178,321.8 178.25,321.72 178.5,321.54 178.75,321.32 179,321.14 179.29,320.98 179.59,320.82 179.88,320.67 180.18,320.57 180.47,320.53 180.79,320.93 181.1,321.69 181.42,322.1 181.67,322 181.93,321.76 182.18,321.49 182.43,321.3 182.7,321.18 182.97,321.08 183.25,320.99 183.52,320.91 183.79,320.83 184.08,320.74 184.38,320.65 184.68,320.57 184.97,320.55 185.27,320.59 185.57,320.67 185.87,320.71 186.14,320.71 186.41,320.7 186.67,320.68 186.94,320.66 187.25,320.62 187.56,320.58 187.87,320.55 188.12,320.54 188.37,320.53 188.62,320.52 188.87,320.52 189.12,320.51 189.37,320.51 189.64,320.68 189.92,321.07 190.19,321.54 190.47,321.93 190.74,322.1 191.02,322.05 191.3,321.91 191.57,321.73 191.85,321.53 192.13,321.35 192.41,321.23 192.73,321.13 193.06,321.05 193.38,321.01 193.64,321.02 193.9,321.04 194.16,321.08 194.42,321.13 194.68,321.18 194.94,321.36 195.19,321.67 195.44,321.97 195.7,322.1 195.97,322.01 196.25,321.79 196.52,321.52 196.8,321.3 197.07,321.21 197.32,321.21 197.57,321.22 197.82,321.23 198.07,321.23 198.37,321.19 198.66,321.1 198.96,321 199.25,320.91 199.55,320.87 199.8,320.9 200.06,320.96 200.31,321.06 200.57,321.17 200.82,321.29 201.12,321.49 201.41,321.76 201.71,322 202.01,322.1 202.27,321.99 202.54,321.73 202.81,321.43 203.07,321.22 203.4,321.05 203.73,320.91 204.06,320.86 204.35,320.87 204.64,320.89 204.94,320.92 205.23,320.96 205.52,321.01 205.83,321.08 206.13,321.19 206.44,321.33 206.69,321.48 206.94,321.68 207.19,321.88 207.44,322.04 207.69,322.1 207.95,322.1 208.2,322.09 208.46,322.08 208.71,322.06 208.97,322.03 209.22,322.01 209.48,321.97 209.73,321.94 209.99,321.89 210.24,321.85 210.5,321.8 210.75,321.68 211,321.46 211.25,321.17 211.5,320.85 211.75,320.53 212,320.26 212.25,320.07 212.5,320 212.75,320.08 213,320.28 213.25,320.57 213.5,320.9 213.75,321.23 214,321.52 214.25,321.72 214.5,321.8 214.75,321.73 215,321.55 215.25,321.31 215.5,321.07 215.75,320.89 216,320.82 216.26,320.82 216.52,320.83 216.78,320.84 217.04,320.86 217.3,320.88 217.56,321.09 217.83,321.5 218.1,321.91 218.36,322.1 218.62,321.97 218.89,321.65 219.15,321.28 219.42,320.96 219.68,320.83 219.96,320.96 220.25,321.28 220.53,321.65 220.82,321.97 221.1,322.1 221.38,321.95 221.66,321.58 221.93,321.15 222.21,320.78 222.49,320.62 222.74,320.61 222.99,320.6 223.24,320.6 223.49,320.6 223.74,320.59 223.99,320.59 224.27,320.71 224.55,320.98 224.83,321.35 225.11,321.71 225.39,321.99 225.67,322.1 225.95,321.94 226.24,321.59 226.53,321.25 226.81,321.09 227.08,321.11 227.35,321.16 227.62,321.24 227.89,321.34 228.16,321.44 228.42,321.55 228.69,321.65 228.96,321.73 229.23,321.78 229.5,321.8 229.76,320.83 230.01,318.33 230.27,314.91 230.53,311.19 230.79,307.77 231.04,305.27 231.3,304.3 231.55,304.97 231.8,306.75 232.05,309.27 232.3,312.15 232.55,315.03 232.8,317.55 233.05,319.33 233.3,320 233.58,316.91 233.85,308.77 234.12,297.25 234.4,284.05 234.68,270.85 234.95,259.33 235.22,251.19 235.5,248.1 235.75,250.62 236,257.26 236.25,266.64 236.5,277.4 236.75,288.16 237,297.54 237.25,304.18 237.5,306.7 237.76,303.71 238.02,295.6 238.28,283.65 238.54,269.14 238.8,253.35 239.06,237.56 239.32,223.05 239.58,211.1 239.84,202.99 240.1,200 240.38,204.12 240.65,215 240.93,230.38 241.2,248 241.47,265.62 241.75,281 242.03,291.88 242.3,296 242.56,291.88 242.83,281 243.09,265.62 243.35,248 243.61,230.38 243.88,215 244.14,204.12 244.4,200 244.67,204.06 244.93,213.52 245.2,224.3 245.45,236.88 245.7,253.76 245.95,271.99 246.2,288.65 246.45,300.8 246.7,305.5 246.97,302.05 247.24,293.17 247.51,281.02 247.79,267.78 248.06,255.63 248.33,246.75 248.6,243.3 248.87,243.76 249.13,245.03 249.4,246.9 249.7,259.25 250,283.34 250.3,306.83 250.6,317.4 250.86,317.26 251.12,316.88 251.38,316.32 251.64,315.64 251.9,314.9 252.16,314.16 252.42,313.48 252.68,312.92 252.94,312.54 253.2,312.4 253.47,313 253.73,314.5 254,316.45 254.27,318.4 254.53,319.9 254.8,320.5 255.06,320.09 255.31,318.99 255.57,317.39 255.82,315.5 256.08,313.5 256.33,311.61 256.59,310.01 256.84,308.91 257.1,308.5 257.36,309.14 257.61,310.78 257.87,313.03 258.13,315.47 258.39,317.72 258.64,319.36 258.9,320 259.17,319.09 259.43,316.67 259.7,313.16 259.97,308.99 260.23,304.61 260.5,300.44 260.77,296.93 261.03,294.51 261.3,293.6 261.55,294.57 261.8,297.13 262.05,300.75 262.3,304.9 262.55,309.05 262.8,312.67 263.05,315.23 263.3,316.2 263.57,314.89 263.83,311.39 264.1,306.32 264.37,300.31 264.63,293.99 264.9,287.98 265.17,282.91 265.43,279.41 265.7,278.1 265.97,280.31 266.24,286.01 266.51,293.8 266.79,302.3 267.06,310.09 267.33,315.79 267.6,318 267.87,316.65 268.13,313.04 268.4,307.81 268.67,301.61 268.93,295.09 269.2,288.89 269.47,283.66 269.73,280.05 270,278.7 270.25,280.16 270.5,284 270.75,289.43 271,295.65 271.25,301.87 271.5,307.3 271.75,311.14 272,312.6 272.27,312.19 272.55,311.12 272.82,309.59 273.1,307.85 273.38,306.11 273.65,304.58 273.93,303.51 274.2,303.1 274.45,303.87 274.7,305.9 274.95,308.76 275.2,312.05 275.45,315.34 275.7,318.2 275.95,320.23 276.2,321 276.47,320.93 276.73,320.75 277,320.48 277.27,320.17 277.53,319.83 277.8,319.52 278.07,319.25 278.33,319.07 278.6,319 278.88,319.29 279.16,319.99 279.44,320.81 279.72,321.51 280,321.8 280.25,321.79 280.5,321.76 280.75,321.72 281,321.67 281.25,321.61 281.5,321.55 281.75,321.49 282,321.43 282.27,321.35 282.55,321.25 282.82,321.14 283.1,321.05 283.38,320.98 283.65,320.95 283.91,320.97 284.18,321.03 284.44,321.1 284.71,321.15 284.97,321.17 285.25,321.17 285.52,321.14 285.8,321.11 286.08,321.07 286.35,321.04 286.63,321.02 286.91,321 287.2,320.98 287.49,320.96 287.77,320.95 288.03,321.03 288.3,321.19 288.56,321.36 288.83,321.43 289.11,321.39 289.38,321.31 289.66,321.19 289.94,321.08 290.21,320.99 290.49,320.95 290.78,321.13 291.06,321.53 291.35,321.92 291.64,322.1 291.92,321.99 292.2,321.71 292.47,321.38 292.75,321.1 293.03,320.96 293.32,320.93 293.61,320.9 293.9,320.88 294.19,320.87 294.48,320.86 294.78,320.87 295.07,320.89 295.37,320.91 295.66,320.94 295.96,320.98 296.24,321.05 296.52,321.17 296.79,321.29 297.07,321.4 297.35,321.44 297.66,321.43 297.97,321.4 298.28,321.36 298.59,321.31 298.85,321.25 299.12,321.16 299.38,321.07 299.65,320.99 299.91,320.96 300.19,321.14 300.47,321.53 300.75,321.92 301.03,322.1 301.33,322.1 301.62,322.1 301.92,322.1 302.21,322.1 302.51,322.1 302.82,322.1 303.13,322.1 303.44,322.1 303.75,322.1 304.01,322.1 304.27,322.1 304.53,322.1 304.79,322.1 305.05,322.1 305.31,322.1 305.6,321.93 305.88,321.55 306.16,321.17 306.45,321 306.71,321.11 306.97,321.38 307.23,321.71 307.49,321.99 307.75,322.1 308.02,322.06 308.29,321.97 308.56,321.84 308.82,321.68 309.09,321.53 309.36,321.39 309.66,321.23 309.96,321.04 310.25,320.9 310.55,320.83 310.81,320.85 311.06,320.89 311.31,320.94 311.57,321 311.82,321.04 312.08,321.05 312.36,321.04 312.63,321.02 312.9,321 313.18,320.99 313.46,320.98 313.73,320.98 314.01,320.97 314.28,320.97 314.56,320.97 314.86,320.97 315.15,320.98 315.45,321 315.75,321.02 316.01,321.06 316.26,321.14 316.52,321.23 316.78,321.32 317.03,321.39 317.29,321.41 317.57,321.38 317.86,321.29 318.14,321.18 318.43,321.08 318.71,321.02 318.99,320.98 319.27,320.95 319.55,320.92 319.84,320.9 320.12,320.88 320.4,320.88 320.66,320.92 320.92,321.02 321.19,321.17 321.45,321.34 321.71,321.51 321.98,321.66 322.24,321.76 322.5,321.8 322.77,319.73 323.04,314.39 323.31,307.08 323.59,299.12 323.86,291.81 324.13,286.47 324.4,284.4 324.66,286.3 324.91,291.2 325.17,297.9 325.43,305.2 325.69,311.9 325.94,316.8 326.2,318.7 326.45,317.17 326.7,313.14 326.95,307.44 327.2,300.9 327.45,294.36 327.7,288.66 327.95,284.63 328.2,283.1 328.45,285.8 328.7,292.56 328.95,301.35 329.2,310.14 329.45,316.9 329.7,319.6 329.95,318.17 330.2,314.41 330.45,309.1 330.7,303 330.95,296.9 331.2,291.59 331.45,287.83 331.7,286.4 332.05,290.64 332.4,298.3 332.65,304.7 332.9,312.44 333.15,318.99 333.4,321.8 333.67,321.9 333.93,321.97 334.2,322.03 334.47,322.07 334.73,322.09 335,322.1 335.28,322 335.56,321.78 335.83,321.51 336.11,321.28 336.39,321.18 336.71,321.24 337.04,321.33 337.36,321.38 337.62,321.35 337.89,321.28 338.15,321.18 338.42,321.09 338.69,321.01 338.95,320.99 339.22,321.07 339.5,321.27 339.77,321.54 340.04,321.81 340.32,322.02 340.59,322.1 340.87,321.99 341.15,321.72 341.42,321.4 341.7,321.13 341.98,321.02 342.26,321.13 342.55,321.4 342.83,321.72 343.12,321.99 343.4,322.1 343.71,321.81 344.02,321.26 344.33,320.97 344.59,320.99 344.86,321.03 345.12,321.09 345.39,321.15 345.66,321.19 345.92,321.21 346.22,321.19 346.51,321.13 346.81,321.08 347.11,321.05 347.37,321.06 347.63,321.07 347.88,321.08 348.14,321.1 348.4,321.12 348.66,321.15 348.94,321.27 349.21,321.51 349.49,321.78 349.76,322.01 350.04,322.1 350.33,322.01 350.61,321.82 350.89,321.61 351.18,321.48 351.47,321.43 351.76,321.4 352.05,321.37 352.34,321.33 352.67,321.26 353,321.19 353.33,321.15 353.62,321.3 353.92,321.63 354.21,321.95 354.51,322.1 354.79,322.02 355.06,321.83 355.34,321.61 355.62,321.45 355.93,321.33 356.24,321.21 356.55,321.13 356.86,321.1 357.19,321.36 357.51,321.84 357.84,322.1 358.12,322.1 358.41,322.1 358.69,322.1 358.98,322.1 359.28,322.1 359.58,322.1 359.87,322.1 360.17,322.1 360.47,322.1 360.79,321.91 361.1,321.55 361.42,321.3 361.72,321.22 362.01,321.15 362.31,321.1 362.6,321.07 362.9,321.06 363.17,321.17 363.44,321.42 363.71,321.73 363.98,321.99 364.25,322.1 364.52,322.03 364.79,321.85 365.06,321.62 365.32,321.39 365.59,321.21 365.86,321.14 366.13,321.16 366.4,321.22 366.67,321.31 366.94,321.41 367.22,321.52 367.49,321.63 367.76,321.72 368.03,321.78 368.3,321.8 368.55,321.02 368.8,318.85 369.05,315.58 369.3,311.48 369.55,306.83 369.8,301.9 370.05,296.97 370.3,292.32 370.55,288.22 370.8,284.95 371.05,282.78 371.3,282 371.57,284.17 371.83,289.6 372.1,296.65 372.37,303.7 372.63,309.13 372.9,311.3 373.15,308 373.4,299.28 373.65,286.97 373.9,272.85 374.15,258.73 374.4,246.42 374.65,237.7 374.9,234.4 375.15,239.87 375.4,252.75 375.65,267.76 375.9,279.6 376.17,289.02 376.43,298.6 376.7,307.5 376.97,314.89 377.23,319.93 377.5,321.8 377.75,321.79 378,321.76 378.25,321.72 378.5,321.66 378.75,321.59 379,321.52 379.25,321.45 379.5,321.37 379.75,321.3 380,321.24 380.27,321.16 380.55,321.06 380.82,320.97 381.1,320.89 381.38,320.83 381.65,320.8 381.92,320.9 382.2,321.14 382.47,321.45 382.74,321.76 383.02,322 383.29,322.1 383.58,322.01 383.88,321.81 384.17,321.57 384.46,321.39 384.72,321.28 384.98,321.18 385.23,321.1 385.49,321.04 385.81,320.98 386.12,320.93 386.44,320.91 386.71,320.94 386.99,321.01 387.26,321.09 387.54,321.16 387.81,321.19 388.12,321.14 388.43,321.02 388.73,320.91 389.04,320.86 389.31,320.87 389.58,320.87 389.86,320.88 390.13,320.89 390.4,320.9 390.67,320.92 390.95,320.95 391.22,320.99 391.49,321.03 391.77,321.07 392.04,321.11 392.32,321.15 392.6,321.19 392.88,321.23 393.17,321.27 393.45,321.3 393.73,321.31 394.03,321.26 394.33,321.13 394.62,321.01 394.92,320.96 395.18,321.07 395.45,321.36 395.71,321.7 395.98,321.98 396.24,322.1 396.53,322.04 396.82,321.89 397.11,321.69 397.4,321.48 397.69,321.32 397.94,321.22 398.19,321.11 398.44,321.02 398.69,320.96 398.95,320.92 399.21,320.88 399.47,320.86 399.73,320.84 399.99,320.83 400.26,320.83 400.52,320.83 400.79,320.84 401.05,320.85 401.32,320.86 401.6,321.06 401.88,321.49 402.17,321.91 402.45,322.1 402.71,321.99 402.98,321.72 403.24,321.41 403.51,321.14 403.77,321.03 404.03,321.04 404.29,321.05 404.55,321.07 404.81,321.09 405.07,321.12 405.33,321.15 405.58,321.21 405.83,321.29 406.08,321.37 406.33,321.41 406.64,321.41 406.95,321.42 407.26,321.43 407.53,321.49 407.81,321.61 408.09,321.77 408.36,321.93 408.63,322.05 408.91,322.1 409.2,322.01 409.49,321.79 409.79,321.53 410.08,321.3 410.37,321.18 410.62,321.15 410.88,321.13 411.13,321.12 411.39,321.11 411.71,321.37 412.03,321.84 412.35,322.1 412.62,322.1 412.89,322.1 413.17,322.1 413.44,322.1 413.71,322.1 413.99,322.06 414.27,321.96 414.54,321.82 414.82,321.66 415.1,321.51 415.38,321.37 415.66,321.25 415.94,321.1 416.23,320.97 416.51,320.87 416.79,320.83 417.08,320.91 417.36,321.09 417.64,321.32 417.93,321.55 418.22,321.73 418.5,321.8 418.75,321.67 419,321.33 419.25,320.9 419.5,320.47 419.75,320.13 420,320 420.25,320.06 420.5,320.23 420.75,320.47 421,320.75 421.25,321.03 421.5,321.27 421.75,321.44 422,321.5 422.25,321.43 422.5,321.25 422.75,320.98 423,320.66 423.25,320.3 423.5,319.94 423.75,319.62 424,319.35 424.25,319.17 424.5,319.1 424.75,319.18 425,319.4 425.25,319.7 425.5,320.05 425.75,320.4 426,320.7 426.25,320.92 426.5,321 426.77,320.9 427.03,320.65 427.3,320.27 427.57,319.83 427.83,319.37 428.1,318.93 428.37,318.55 428.63,318.3 428.9,318.2 429.16,318.35 429.42,318.76 429.69,319.34 429.95,320 430.21,320.66 430.48,321.24 430.74,321.65 431,321.8 431.25,321.64 431.5,321.3 431.75,320.96 432,320.8 432.31,320.9 432.62,321.1 432.93,321.2 433.22,321.16 433.5,321.06 433.79,320.95 434.07,320.85 434.36,320.81 434.66,320.82 434.95,320.83 435.25,320.84 435.54,320.85 435.82,320.89 436.11,320.97 436.39,321.07 436.68,321.19 436.96,321.32 437.22,321.51 437.48,321.77 437.74,322 438,322.1 438.25,322.1 438.5,322.09 438.75,322.07 439,322.05 439.25,322.02 439.5,321.99 439.75,321.95 440,321.91 440.25,321.86 440.5,321.8 440.77,320.97 441.04,318.84 441.31,315.72 441.58,311.96 441.85,307.87 442.12,303.79 442.39,300.04 442.66,296.96 442.93,294.87 443.2,294.1 443.47,294.95 443.75,297.18 444.02,300.33 444.3,303.95 444.57,307.57 444.85,310.72 445.12,312.95 445.4,313.8 445.67,310.63 445.94,302.46 446.21,291.29 446.49,279.11 446.76,267.94 447.03,259.77 447.3,256.6 447.56,257.88 447.82,261.41 448.07,266.74 448.33,273.43 448.59,281.02 448.85,289.07 449.11,297.13 449.37,304.74 449.62,311.47 449.88,316.85 450.14,320.44 450.4,321.8 450.67,321.88 450.93,321.96 451.2,322.02 451.47,322.06 451.73,322.09 452,322.1 452.3,321.95 452.6,321.63 452.9,321.3 453.2,321.15 453.5,321.16 453.8,321.19 454.1,321.24 454.4,321.3 454.71,321.54 455.02,321.91 455.33,322.1 455.62,321.99 455.92,321.74 456.21,321.44 456.51,321.19 456.8,321.09 457.09,321.25 457.38,321.59 457.66,321.94 457.95,322.1 458.22,322.01 458.49,321.81 458.76,321.6 459.03,321.51 459.35,321.57 459.68,321.69 460,321.8 460.26,321.87 460.53,321.93 460.79,322 461.05,322.05 461.32,322.09 461.58,322.1 461.86,322 462.14,321.77 462.43,321.5 462.71,321.27 462.99,321.17 463.25,321.17 463.5,321.18 463.75,321.18 464.01,321.19 464.26,321.2 464.52,321.21 464.79,321.31 465.07,321.53 465.34,321.79 465.62,322.01 465.89,322.1 466.15,322.1 466.41,322.1 466.67,322.1 466.94,322.1 467.2,322.1 467.46,322.1 467.72,322.05 467.99,321.93 468.25,321.77 468.52,321.61 468.79,321.49 469.05,321.44 469.3,321.44 469.55,321.44 469.8,321.44 470.05,321.44 470.3,321.44 470.55,321.44 470.81,321.43 471.06,321.43 471.31,321.43 471.56,321.43 471.81,321.43 472.06,321.43 472.31,321.43 472.56,321.43 472.81,321.43 473.06,321.43 473.31,321.42 473.56,321.42 473.82,321.42 474.07,321.42 474.32,321.42 474.57,321.42 474.82,321.42 475.07,321.42 475.32,321.42 475.57,321.42 475.82,321.42 476.07,321.41 476.32,321.41 476.57,321.41 476.83,321.41 477.08,321.41 477.33,321.41 477.58,321.41 477.83,321.41 478.08,321.41 478.33,321.41 478.58,321.41 478.83,321.41 479.08,321.41 479.33,321.4 479.58,321.4 479.84,321.4 480.09,321.4 480.34,321.4 480.59,321.4 480.84,321.4 481.09,321.4 481.34,321.4 481.59,321.4 481.84,321.4 482.09,321.4 482.34,321.4 482.59,321.39 482.85,321.39 483.1,321.39 483.35,321.39 483.6,321.39 483.85,321.39 484.1,321.39 484.35,321.39 484.6,321.39 484.85,321.39 485.1,321.39 485.35,321.39 485.6,321.39 485.86,321.39 486.11,321.39 486.36,321.39 486.61,321.39 486.86,321.38 487.11,321.38 487.36,321.38 487.61,321.38 487.86,321.38 488.11,321.38 488.36,321.38 488.61,321.38 488.87,321.38 489.12,321.38 489.37,321.38 489.62,321.38 489.87,321.38 490.12,321.38 490.37,321.38 490.62,321.38 490.87,321.38 491.12,321.38 491.37,321.38 491.62,321.37 491.87,321.37 492.13,321.37 492.38,321.37 492.63,321.37 492.88,321.37 493.13,321.37 493.38,321.37 493.63,321.37 493.88,321.37 494.13,321.37 494.38,321.37 494.63,321.37 494.88,321.37 495.14,321.37 495.39,321.37 495.64,321.37 495.89,321.37 496.14,321.37 496.39,321.37 496.64,321.37 496.89,321.37 497.14,321.37 497.39,321.37 497.64,321.37 497.89,321.37 498.15,321.36 498.4,321.36 498.65,321.36 498.9,321.36 499.15,321.36 499.4,321.36 499.65,321.36 499.9,321.36 500.15,321.36 500.4,321.36 500.65,321.36 500.9,321.36 501.16,321.36 501.41,321.36 501.66,321.36 501.91,321.36 502.16,321.36 502.41,321.36 502.66,321.36 502.91,321.36 503.16,321.36 503.41,321.36 503.66,321.36 503.91,321.36 504.17,321.36 504.42,321.36 504.67,321.36 504.92,321.36 505.17,321.36 505.42,321.36 505.67,321.36 505.92,321.36 506.17,321.36 506.42,321.36 506.67,321.36 506.92,321.36 507.18,321.36 507.43,321.36 507.68,321.36 507.93,321.36 508.18,321.36 508.43,321.36 508.68,321.36 508.93,321.36 509.18,321.35 509.43,321.35 509.68,321.35 509.93,321.35 510.18,321.35 510.44,321.35 510.69,321.35 510.94,321.35 511.19,321.35 511.44,321.35 511.69,321.35 511.94,321.35 512.19,321.35 512.44,321.35 512.69,321.35 512.94,321.35 513.19,321.35 513.45,321.35 513.7,321.35 513.95,321.35 514.2,321.35 514.45,321.35 514.7,321.35 514.95,321.35 515.2,321.35 515.45,321.35 515.7,321.35 515.95,321.35 516.2,321.35 516.46,321.35 516.71,321.35 516.96,321.35 517.21,321.35 517.46,321.35 517.71,321.35 517.96,321.35 518.21,321.35 518.46,321.35 518.71,321.35 518.96,321.35 519.21,321.35 519.47,321.35 519.72,321.35 519.97,321.35 520.22,321.35 520.47,321.35 520.72,321.35 520.97,321.35 521.22,321.35 521.47,321.35 521.72,321.35 521.97,321.35 522.22,321.35 522.48,321.35 522.73,321.35 522.98,321.35 523.23,321.35 523.48,321.35 523.73,321.35 523.98,321.35 524.23,321.35 524.48,321.35 524.73,321.35 524.98,321.35 525.23,321.35 525.49,321.35 525.74,321.35 525.99,321.35 526.24,321.35 526.49,321.35 526.74,321.35 526.99,321.35 527.24,321.35 527.49,321.35 527.74,321.35 527.99,321.35 528.24,321.35 528.5,321.35 528.75,321.35 529,321.35 529.25,321.35 529.5,321.35 529.75,321.35 530,321.35 530.28,321.43 530.57,321.61 530.85,321.84 531.14,322.02 531.42,322.1 531.69,322 531.97,321.76 532.24,321.48 532.52,321.24 532.79,321.14 533.09,321.15 533.38,321.18 533.67,321.22 533.97,321.26 534.22,321.29 534.48,321.32 534.73,321.35 534.99,321.37 535.24,321.38 535.54,321.37 535.85,321.34 536.15,321.32 536.45,321.31 536.74,321.39 537.03,321.59 537.33,321.82 537.62,322.02 537.91,322.1 538.16,322.1 538.41,322.1 538.67,322.09 538.92,322.08 539.17,322.07 539.42,322.06 539.67,322.05 539.92,322.03 540.18,322.02 540.43,322 540.68,321.98 540.93,321.96 541.18,321.94 541.43,321.91 541.69,321.89 541.94,321.87 542.19,321.84 542.44,321.81 542.69,321.78 542.94,321.76 543.2,321.73 543.45,321.7 543.7,321.67 543.95,321.64 544.2,321.61 544.45,321.58 544.71,321.55 544.96,321.52 545.21,321.49 545.46,321.46 545.71,321.43 545.97,321.4 546.22,321.37 546.47,321.35 546.72,321.32 546.97,321.29 547.22,321.27 547.48,321.24 547.73,321.22 547.98,321.2 548.23,321.18 548.48,321.16 548.73,321.14 548.99,321.13 549.24,321.11 549.49,321.1 549.74,321.09 549.99,321.08 550.24,321.07 550.5,321.06 550.75,321.06 551,321.06 551.32,321.06 551.65,321.07 551.97,321.09 552.22,321.17 552.47,321.36 552.73,321.6 552.98,321.84 553.23,322.03 553.48,322.1 553.76,322.1 554.04,322.1 554.33,322.1 554.61,322.1 554.89,322.1 555.16,322.1 555.42,322.1 555.69,322.1 555.96,322.1 556.22,322.1 556.49,322.1 556.82,322.1 557.15,322.1 557.48,322.1" fill="none" stroke="#3cc03c" stroke-width="0.85" stroke-linejoin="miter" stroke-miterlimit="20"/><rect x="40" y="321.3" width="689" height="1" fill="#969696"/><rect x="129.15" y="321.8" width="0.9" height="2.5" fill="#50d050"/><rect x="121.95" y="324.75" width="17" height="6.6" rx="0" fill="#fff" stroke="#50d050" stroke-width="0.9"/><text x="130.45" y="329.9" font-size="5" fill="#1a1a1a" stroke="#1a1a1a" stroke-width="0.05" text-anchor="middle">113.27</text><rect x="244.05" y="321.8" width="0.9" height="2.5" fill="#50d050"/><rect x="236.65" y="324.75" width="17" height="6.6" rx="0" fill="#fff" stroke="#50d050" stroke-width="0.9"/><text x="245.15" y="329.9" font-size="5" fill="#1a1a1a" stroke="#1a1a1a" stroke-width="0.05" text-anchor="middle">143.31</text><rect x="264.95" y="321.8" width="0.9" height="2.5" fill="#50d050"/><rect x="257.65" y="324.75" width="17" height="6.6" rx="0" fill="#fff" stroke="#50d050" stroke-width="0.9"/><text x="266.15" y="329.9" font-size="5" fill="#1a1a1a" stroke="#1a1a1a" stroke-width="0.05" text-anchor="middle">148.87</text><rect x="374.85" y="321.8" width="0.9" height="2.5" fill="#50d050"/><rect x="366.65" y="324.75" width="17" height="6.6" rx="0" fill="#fff" stroke="#50d050" stroke-width="0.9"/><text x="375.15" y="329.9" font-size="5" fill="#1a1a1a" stroke="#1a1a1a" stroke-width="0.05" text-anchor="middle">177.39</text><rect x="447.05" y="321.8" width="0.9" height="2.5" fill="#50d050"/><rect x="439.55" y="324.75" width="17" height="6.6" rx="0" fill="#fff" stroke="#50d050" stroke-width="0.9"/><text x="448.05" y="329.9" font-size="5" fill="#1a1a1a" stroke="#1a1a1a" stroke-width="0.05" text-anchor="middle">196.36</text>
<rect x="7" y="340" width="722" height="1" fill="#5ad8d8"/>
<rect x="7" y="341" width="722" height="12" fill="#eeeeee"/><rect x="89.4" y="341" width="1" height="12" fill="#c4c4c4"/><rect x="155.4" y="341" width="1" height="12" fill="#c4c4c4"/><rect x="172.7" y="341" width="18.5" height="12" fill="#ffffff"/><rect x="172.5" y="341" width="1" height="12" fill="#c8c8c8"/><rect x="172.7" y="352.2" width="18.5" height="0.8" fill="#d6d6d6"/><rect x="192.8" y="341" width="20.4" height="12" fill="#ffffff"/><rect x="192.6" y="341" width="1" height="12" fill="#c8c8c8"/><rect x="192.8" y="352.2" width="20.4" height="0.8" fill="#d6d6d6"/><rect x="214.3" y="341" width="21" height="12" fill="#ffffff"/><rect x="214.1" y="341" width="1" height="12" fill="#c8c8c8"/><rect x="214.3" y="352.2" width="21" height="0.8" fill="#d6d6d6"/><rect x="235.9" y="341" width="21.3" height="12" fill="#ffffff"/><rect x="235.7" y="341" width="1" height="12" fill="#c8c8c8"/><rect x="235.9" y="352.2" width="21.3" height="0.8" fill="#d6d6d6"/><rect x="257.8" y="341" width="21.3" height="12" fill="#ffffff"/><rect x="257.6" y="341" width="1" height="12" fill="#c8c8c8"/><rect x="257.8" y="352.2" width="21.3" height="0.8" fill="#d6d6d6"/><rect x="279.8" y="341" width="16.8" height="12" fill="#ffffff"/><rect x="279.6" y="341" width="1" height="12" fill="#c8c8c8"/><rect x="279.8" y="352.2" width="16.8" height="0.8" fill="#d6d6d6"/><rect x="296.6" y="341" width="1" height="12" fill="#d8d8d8"/><text x="9.1" y="347.1" font-size="6" fill="#222" textLength="28.6" lengthAdjust="spacingAndGlyphs">M19-11063</text><text x="90.9" y="347.1" font-size="6" fill="#222" textLength="25" lengthAdjust="spacingAndGlyphs">MR-MSI-3</text><path d="M178.6 342.8 L182.2 350 L175 350 Z" fill="url(#tri)" stroke="#4a4a4a" stroke-width="0.5" stroke-linejoin="round"/><rect x="194.3" y="342.7" width="7.4" height="7.5" rx="0.9" fill="url(#grn)" stroke="#0a7a0a" stroke-width="0.6"/><path d="M219.7 342.8 L223.3 350 L216.1 350 Z" fill="url(#tri)" stroke="#4a4a4a" stroke-width="0.5" stroke-linejoin="round"/><path d="M241.6 342.8 L245.2 350 L238 350 Z" fill="url(#tri)" stroke="#4a4a4a" stroke-width="0.5" stroke-linejoin="round"/><path d="M263.5 342.8 L267.1 350 L259.9 350 Z" fill="url(#tri)" stroke="#4a4a4a" stroke-width="0.5" stroke-linejoin="round"/><circle cx="285.5" cy="346.5" r="4.1" fill="url(#cir)" stroke="#454545" stroke-width="0.9"/>
<rect x="7" y="353" width="722" height="145" fill="#fff"/>
<rect x="6" y="340" width="1" height="159" fill="#46b4b4"/>
<rect x="6" y="498" width="723" height="1" fill="#60f0f0"/>
<rect x="98" y="354.9" width="34.3" height="7" fill="#ff2a36" stroke="#444" stroke-width="0.8"/><text x="98.6" y="360.4" font-size="6" font-weight="bold" fill="#000" stroke="#000" stroke-width="0.15">Amel</text><rect x="151.6" y="354.9" width="75.5" height="7" fill="#969696" stroke="#444" stroke-width="0.8"/><text x="152.2" y="360.4" font-size="6" font-weight="bold" fill="#000" stroke="#000" stroke-width="0.15">NR24</text><rect x="289.3" y="354.9" width="83.9" height="7" fill="#969696" stroke="#444" stroke-width="0.8"/><text x="289.9" y="360.4" font-size="6" font-weight="bold" fill="#000" stroke="#000" stroke-width="0.15">Mono27</text><rect x="40" y="371" width="689" height="1" fill="#606060"/><rect x="40.05" y="370" width="0.9" height="3" fill="#333"/><text x="40.8" y="369.3" font-size="5" fill="#222" text-anchor="middle">90</text><rect x="116.59" y="370" width="0.9" height="3" fill="#333"/><rect x="193.13" y="370" width="0.9" height="3" fill="#333"/><text x="193.88" y="369.3" font-size="5" fill="#222" text-anchor="middle">130</text><rect x="269.67" y="370" width="0.9" height="3" fill="#333"/><rect x="346.21" y="370" width="0.9" height="3" fill="#333"/><text x="346.96" y="369.3" font-size="5" fill="#222" text-anchor="middle">170</text><rect x="422.75" y="370" width="0.9" height="3" fill="#333"/><rect x="499.29" y="370" width="0.9" height="3" fill="#333"/><text x="500.04" y="369.3" font-size="5" fill="#222" text-anchor="middle">210</text><rect x="575.83" y="370" width="0.9" height="3" fill="#333"/><rect x="652.37" y="370" width="0.9" height="3" fill="#333"/><text x="653.12" y="369.3" font-size="5" fill="#222" text-anchor="middle">250</text><rect x="40" y="371" width="0.9" height="109.7" fill="#555"/><rect x="39" y="479.75" width="3" height="0.9" fill="#3a3a3a"/><text x="35.14" y="482.2" font-size="5.6" fill="#2a2a2a" stroke="#2a2a2a" stroke-width="0.08" textLength="2.56" lengthAdjust="spacingAndGlyphs">0</text><rect x="39" y="472.64" width="3" height="0.9" fill="#3a3a3a"/><rect x="39" y="465.52" width="3" height="0.9" fill="#3a3a3a"/><text x="27.46" y="467.97" font-size="5.6" fill="#2a2a2a" stroke="#2a2a2a" stroke-width="0.08" textLength="10.24" lengthAdjust="spacingAndGlyphs">2000</text><rect x="39" y="458.41" width="3" height="0.9" fill="#3a3a3a"/><rect x="39" y="451.29" width="3" height="0.9" fill="#3a3a3a"/><text x="27.46" y="453.74" font-size="5.6" fill="#2a2a2a" stroke="#2a2a2a" stroke-width="0.08" textLength="10.24" lengthAdjust="spacingAndGlyphs">4000</text><rect x="39" y="444.18" width="3" height="0.9" fill="#3a3a3a"/><rect x="39" y="437.07" width="3" height="0.9" fill="#3a3a3a"/><text x="27.46" y="439.52" font-size="5.6" fill="#2a2a2a" stroke="#2a2a2a" stroke-width="0.08" textLength="10.24" lengthAdjust="spacingAndGlyphs">6000</text><rect x="39" y="429.95" width="3" height="0.9" fill="#3a3a3a"/><rect x="39" y="422.84" width="3" height="0.9" fill="#3a3a3a"/><text x="27.46" y="425.29" font-size="5.6" fill="#2a2a2a" stroke="#2a2a2a" stroke-width="0.08" textLength="10.24" lengthAdjust="spacingAndGlyphs">8000</text><rect x="39" y="415.72" width="3" height="0.9" fill="#3a3a3a"/><rect x="39" y="408.61" width="3" height="0.9" fill="#3a3a3a"/><text x="24.9" y="411.06" font-size="5.6" fill="#2a2a2a" stroke="#2a2a2a" stroke-width="0.08" textLength="12.8" lengthAdjust="spacingAndGlyphs">10000</text><rect x="39" y="401.5" width="3" height="0.9" fill="#3a3a3a"/><rect x="39" y="394.38" width="3" height="0.9" fill="#3a3a3a"/><text x="24.9" y="396.83" font-size="5.6" fill="#2a2a2a" stroke="#2a2a2a" stroke-width="0.08" textLength="12.8" lengthAdjust="spacingAndGlyphs">12000</text><rect x="39" y="387.27" width="3" height="0.9" fill="#3a3a3a"/><rect x="39" y="380.15" width="3" height="0.9" fill="#3a3a3a"/><text x="24.9" y="382.6" font-size="5.6" fill="#2a2a2a" stroke="#2a2a2a" stroke-width="0.08" textLength="12.8" lengthAdjust="spacingAndGlyphs">14000</text><rect x="39" y="373.04" width="3" height="0.9" fill="#3a3a3a"/><polyline clip-path="url(#clip2)" points="40.5,480 40.75,479.99 41.01,479.98 41.26,479.96 41.51,479.92 41.76,479.88 42.02,479.84 42.27,479.79 42.52,479.68 42.78,479.49 43.03,479.32 43.28,479.25 43.58,479.32 43.89,479.48 44.19,479.65 44.46,479.8 44.73,479.98 45,480.17 45.27,480.34 45.54,480.45 45.81,480.5 46.08,480.4 46.35,480.16 46.61,479.87 46.88,479.62 47.15,479.52 47.46,479.59 47.77,479.72 48.08,479.78 48.37,479.77 48.66,479.75 48.96,479.73 49.25,479.71 49.54,479.7 49.83,479.73 50.12,479.81 50.42,479.9 50.71,479.97 51,480 51.26,479.94 51.51,479.8 51.77,479.61 52.03,479.39 52.29,479.2 52.54,479.06 52.8,479 53.08,479.06 53.37,479.21 53.65,479.41 53.93,479.63 54.22,479.84 54.5,480 54.75,480.11 55,480.22 55.25,480.33 55.5,480.42 55.75,480.48 56,480.5 56.27,480.5 56.55,480.5 56.82,480.5 57.09,480.5 57.35,480.37 57.61,480.07 57.88,479.71 58.14,479.4 58.4,479.28 58.67,479.29 58.95,479.32 59.22,479.37 59.5,479.4 59.77,479.43 60.07,479.43 60.37,479.44 60.67,479.44 60.97,479.45 61.3,479.73 61.63,480.23 61.96,480.5 62.25,480.39 62.54,480.14 62.82,479.84 63.11,479.58 63.4,479.47 63.71,479.63 64.02,479.99 64.32,480.34 64.63,480.5 64.91,480.5 65.19,480.5 65.47,480.5 65.75,480.5 66.03,480.33 66.31,479.95 66.59,479.56 66.87,479.39 67.15,479.49 67.44,479.7 67.72,479.9 68,480 68.25,479.85 68.5,479.45 68.75,478.89 69,478.25 69.25,477.61 69.5,477.05 69.75,476.65 70,476.5 70.25,476.65 70.5,477.05 70.75,477.61 71,478.25 71.25,478.89 71.5,479.45 71.75,479.85 72,480 72.25,479.97 72.5,479.88 72.75,479.75 73,479.61 73.25,479.47 73.5,479.35 73.75,479.26 74,479.22 74.27,479.32 74.53,479.56 74.8,479.86 75.07,480.17 75.33,480.41 75.6,480.5 75.9,480.37 76.2,480.08 76.51,479.79 76.81,479.66 77.12,479.67 77.42,479.7 77.73,479.73 78,479.81 78.27,479.96 78.54,480.14 78.81,480.32 79.08,480.45 79.35,480.5 79.63,480.5 79.9,480.5 80.18,480.5 80.45,480.5 80.73,480.5 81,480.37 81.27,480.05 81.55,479.67 81.82,479.35 82.09,479.22 82.36,479.42 82.62,479.86 82.89,480.3 83.15,480.5 83.47,480.27 83.8,479.84 84.12,479.61 84.42,479.84 84.73,480.27 85.03,480.5 85.29,480.36 85.55,480.04 85.81,479.65 86.07,479.32 86.33,479.19 86.64,479.27 86.95,479.44 87.26,479.64 87.57,479.76 87.85,479.82 88.12,479.87 88.4,479.91 88.67,479.95 88.95,479.98 89.22,479.99 89.5,480 89.77,479.83 90.04,479.41 90.31,478.82 90.59,478.18 90.86,477.59 91.13,477.17 91.4,477 91.67,477.19 91.93,477.69 92.2,478.35 92.47,479.04 92.73,479.64 93,480 93.25,480.18 93.5,480.34 93.75,480.46 94,480.5 94.27,480.5 94.54,480.5 94.82,480.5 95.09,480.5 95.36,480.5 95.67,480.43 95.99,480.25 96.3,480 96.56,479.65 96.83,479.07 97.09,478.28 97.35,477.33 97.61,476.24 97.88,475.05 98.14,473.79 98.4,472.5 98.68,470.55 98.97,467.83 99.25,464.85 99.53,462.1 99.82,460.08 100.1,459.3 100.37,459.98 100.64,461.74 100.91,464.14 101.19,466.76 101.46,469.16 101.73,470.92 102,471.6 102.25,470.24 102.5,466.57 102.75,461.15 103,454.56 103.25,447.4 103.5,440.24 103.75,433.65 104,428.23 104.25,424.56 104.5,423.2 104.75,424.79 105,429.11 105.25,435.47 105.5,443.19 105.75,451.6 106,460.01 106.25,467.73 106.5,474.09 106.75,478.41 107,480 107.25,479.9 107.5,479.67 107.75,479.44 108,479.34 108.31,479.4 108.63,479.54 108.94,479.7 109.22,479.86 109.5,480.07 109.77,480.28 110.05,480.44 110.33,480.5 110.61,480.31 110.88,479.9 111.16,479.49 111.44,479.3 111.72,479.39 112.01,479.61 112.29,479.9 112.57,480.19 112.86,480.41 113.14,480.5 113.43,480.38 113.73,480.09 114.02,479.75 114.32,479.46 114.61,479.34 114.88,479.38 115.16,479.46 115.43,479.56 115.7,479.65 116.01,479.73 116.32,479.82 116.63,479.87 116.9,479.9 117.16,479.93 117.43,479.95 117.7,479.97 117.97,479.99 118.23,480 118.5,480 118.77,479.83 119.03,479.38 119.3,478.69 119.57,477.82 119.83,476.84 120.1,475.8 120.37,474.76 120.63,473.78 120.9,472.91 121.17,472.22 121.43,471.77 121.7,471.6 121.98,472.03 122.27,473.1 122.55,474.5 122.83,475.9 123.12,476.97 123.4,477.4 123.67,476.73 123.93,474.95 124.2,472.37 124.47,469.31 124.73,466.09 125,463.03 125.27,460.45 125.53,458.67 125.8,458 126.08,458.73 126.35,460.67 126.62,463.42 126.9,466.6 127.17,469.81 127.45,472.68 127.72,474.8 128,475.8 128.25,476.04 128.5,476.22 128.75,476.35 129,476.46 129.25,476.56 129.5,476.67 129.75,476.81 130,477 130.27,477.34 130.54,477.84 130.81,478.41 131.09,478.99 131.36,479.5 131.63,479.86 131.9,480 132.18,479.95 132.45,479.83 132.72,479.72 133,479.67 133.25,479.73 133.51,479.88 133.76,480.08 134.01,480.28 134.27,480.44 134.52,480.5 134.81,480.33 135.11,479.96 135.41,479.59 135.7,479.42 135.97,479.46 136.24,479.55 136.52,479.66 136.79,479.76 137.06,479.79 137.37,479.72 137.68,479.55 137.98,479.39 138.29,479.31 138.56,479.44 138.83,479.73 139.11,480.08 139.38,480.38 139.65,480.5 139.91,480.5 140.16,480.5 140.42,480.5 140.68,480.5 140.93,480.5 141.19,480.5 141.5,480.5 141.81,480.5 142.12,480.5 142.43,480.5 142.68,480.5 142.93,480.5 143.19,480.5 143.44,480.5 143.69,480.5 144.01,480.29 144.34,479.89 144.66,479.63 144.99,479.56 145.31,479.51 145.64,479.49 145.95,479.49 146.25,479.5 146.56,479.5 146.82,479.51 147.08,479.54 147.34,479.58 147.59,479.63 147.85,479.69 148.11,479.75 148.4,479.88 148.7,480.07 148.99,480.27 149.29,480.43 149.58,480.5 149.88,480.45 150.18,480.32 150.47,480.16 150.77,479.97 151.07,479.82 151.34,479.67 151.61,479.51 151.88,479.39 152.15,479.33 152.46,479.42 152.76,479.6 153.06,479.78 153.37,479.86 153.63,479.87 153.9,479.87 154.17,479.87 154.43,479.87 154.69,479.87 154.96,479.87 155.25,479.93 155.53,480.09 155.82,480.28 156.1,480.43 156.39,480.5 156.66,480.49 156.94,480.46 157.21,480.41 157.48,480.33 157.75,480.24 158.03,480.13 158.3,480 158.57,479 158.84,476.65 159.11,473.49 159.39,470.07 159.66,466.96 159.93,464.68 160.2,463.8 160.46,464.8 160.72,467.18 160.98,470.02 161.24,472.4 161.5,473.4 161.76,471.79 162.01,467.47 162.27,461.21 162.52,453.8 162.78,446 163.03,438.59 163.29,432.33 163.54,428.01 163.8,426.4 164.05,428.65 164.3,434.28 164.55,441.6 164.8,448.92 165.05,454.55 165.3,456.8 165.58,452.21 165.85,440.11 166.12,423.01 166.4,403.4 166.68,383.79 166.95,366.69 167.22,354.59 167.5,350 167.75,354.52 168,365.81 168.25,380.5 168.5,395.19 168.75,406.48 169,411 169.28,404.66 169.56,389.53 169.84,371.47 170.12,356.34 170.4,350 170.66,354.19 170.91,365.41 171.17,381.66 171.42,400.92 171.68,421.18 171.93,440.44 172.19,456.69 172.44,467.91 172.7,472.1 172.95,471.54 173.2,470.13 173.45,468.3 173.7,466.47 173.95,465.06 174.2,464.5 174.48,465.5 174.77,468 175.05,471.25 175.33,474.5 175.62,477 175.9,478 176.17,477.93 176.43,477.75 176.7,477.48 176.97,477.17 177.23,476.83 177.5,476.52 177.77,476.25 178.03,476.07 178.3,476 178.6,476.47 178.9,477.5 179.2,478.53 179.5,479 179.78,478.67 180.07,477.86 180.35,476.8 180.63,475.74 180.92,474.93 181.2,474.6 181.46,475.06 181.72,476.15 181.98,477.45 182.24,478.54 182.5,479 182.77,478.2 183.04,476.13 183.31,473.29 183.59,470.21 183.86,467.37 184.13,465.3 184.4,464.5 184.66,465.38 184.92,467.49 185.18,470.01 185.44,472.12 185.7,473 185.96,472.06 186.22,469.58 186.49,466.07 186.75,462.05 187.01,458.03 187.28,454.52 187.54,452.04 187.8,451.1 188.08,453.15 188.36,458.03 188.64,463.87 188.92,468.75 189.2,470.8 189.47,469.63 189.75,466.53 190.03,462.16 190.3,457.15 190.57,452.14 190.85,447.77 191.12,444.67 191.4,443.5 191.67,445.71 191.93,451.25 192.2,458.45 192.47,465.65 192.73,471.19 193,473.4 193.27,471.99 193.53,468.45 193.8,463.85 194.07,459.25 194.33,455.71 194.6,454.3 194.85,455.91 195.1,459.93 195.35,465.15 195.6,470.37 195.85,474.39 196.1,476 196.37,475.89 196.63,475.61 196.9,475.25 197.17,474.89 197.43,474.61 197.7,474.5 197.96,475.04 198.22,476.33 198.48,477.9 198.74,479.28 199,480 199.25,480.2 199.5,480.36 199.75,480.46 200,480.5 200.31,480.19 200.63,479.63 200.94,479.32 201.2,479.32 201.46,479.33 201.72,479.34 201.98,479.35 202.26,479.37 202.54,479.4 202.82,479.44 203.11,479.5 203.39,479.57 203.67,479.65 203.97,479.92 204.28,480.3 204.58,480.5 204.84,480.41 205.11,480.2 205.38,479.98 205.64,479.85 205.91,479.81 206.18,479.77 206.46,479.74 206.73,479.72 207,479.72 207.3,479.84 207.59,480.11 207.88,480.38 208.18,480.5 208.45,480.5 208.72,480.5 208.99,480.5 209.26,480.5 209.53,480.5 209.85,480.35 210.18,480.07 210.5,479.92 210.79,479.98 211.08,480.13 211.38,480.3 211.67,480.44 211.96,480.5 212.21,480.43 212.46,480.27 212.72,480.08 212.97,479.92 213.22,479.85 213.47,479.85 213.72,479.87 213.97,479.9 214.23,479.93 214.48,479.97 214.73,480.01 215,480.07 215.27,480.17 215.53,480.29 215.8,480.39 216.07,480.47 216.34,480.5 216.63,480.43 216.93,480.26 217.22,480.06 217.52,479.89 217.81,479.81 218.08,479.82 218.35,479.83 218.62,479.85 218.88,479.88 219.15,479.91 219.42,479.95 219.75,480.12 220.07,480.37 220.4,480.5 220.66,480.5 220.93,480.5 221.19,480.5 221.46,480.5 221.72,480.5 222,480.5 222.28,480.5 222.56,480.5 222.84,480.5 223.12,480.5 223.38,480.5 223.63,480.5 223.88,480.5 224.14,480.5 224.4,480.5 224.65,480.5 224.95,480.5 225.26,480.5 225.56,480.5 225.81,480.44 226.06,480.3 226.32,480.12 226.57,479.98 226.82,479.92 227.12,480.01 227.43,480.21 227.73,480.41 228.03,480.5 228.29,480.42 228.55,480.23 228.8,480 229.06,479.81 229.32,479.73 229.59,479.73 229.85,479.73 230.12,479.73 230.38,479.73 230.65,479.73 230.96,479.72 231.26,479.71 231.57,479.7 231.84,479.71 232.11,479.74 232.38,479.78 232.65,479.83 232.92,479.88 233.19,479.92 233.46,479.96 233.73,479.99 234,480 234.27,479.85 234.53,479.48 234.8,479 235.07,478.52 235.33,478.15 235.6,478 235.88,478.21 236.16,478.7 236.44,479.3 236.72,479.79 237,480 237.25,480 237.5,480 237.75,480 238,480 238.27,478.88 238.54,475.98 238.81,472.01 239.09,467.69 239.36,463.72 239.63,460.82 239.9,459.7 240.16,460.69 240.41,463.23 240.67,466.71 240.93,470.49 241.19,473.97 241.44,476.51 241.7,477.5 241.95,476.89 242.21,475.21 242.46,472.7 242.72,469.6 242.97,466.14 243.23,462.56 243.48,459.1 243.74,456 243.99,453.49 244.25,451.81 244.5,451.2 244.8,456.84 245.1,465.8 245.45,474.84 245.8,480 246.1,479.98 246.4,479.94 246.7,479.89 247,479.87 247.26,479.87 247.53,479.87 247.79,479.88 248.06,479.88 248.32,479.88 248.59,479.93 248.86,480.04 249.13,480.19 249.41,480.34 249.68,480.45 249.95,480.5 250.23,480.44 250.51,480.3 250.8,480.13 251.08,479.97 251.36,479.87 251.65,479.83 251.93,479.8 252.22,479.77 252.5,479.77 252.8,479.84 253.09,480.02 253.39,480.24 253.68,480.42 253.98,480.5 254.27,480.45 254.56,480.32 254.86,480.16 255.15,480.01 255.44,479.93 255.7,479.89 255.96,479.86 256.21,479.84 256.47,479.82 256.73,479.82 257.04,479.82 257.36,479.83 257.67,479.84 257.97,479.81 258.27,479.76 258.57,479.7 258.87,479.67 259.14,479.68 259.41,479.68 259.69,479.69 259.96,479.71 260.26,479.72 260.55,479.74 260.85,479.76 261.14,479.79 261.44,479.83 261.71,479.9 261.97,480.03 262.24,480.19 262.51,480.34 262.77,480.45 263.04,480.5 263.32,480.43 263.59,480.26 263.87,480.07 264.14,479.9 264.42,479.83 264.71,479.84 265,479.85 265.28,479.88 265.57,479.91 265.86,479.96 266.18,480.12 266.49,480.37 266.81,480.5 267.09,480.5 267.37,480.5 267.64,480.5 267.92,480.5 268.2,480.5 268.52,480.38 268.83,480.14 269.15,479.99 269.41,479.96 269.66,479.93 269.92,479.92 270.17,479.9 270.43,479.88 270.74,479.83 271.04,479.77 271.35,479.73 271.64,479.73 271.94,479.73 272.23,479.73 272.52,479.73 272.82,479.7 273.12,479.66 273.42,479.63 273.7,479.62 273.97,479.62 274.25,479.62 274.52,479.61 274.8,479.61 275.08,479.62 275.36,479.62 275.64,479.64 275.93,479.65 276.21,479.67 276.49,479.7 276.82,479.92 277.14,480.3 277.47,480.5 277.74,480.38 278.01,480.12 278.29,479.85 278.56,479.73 278.82,479.85 279.09,480.12 279.35,480.38 279.61,480.5 279.94,480.5 280.27,480.5 280.6,480.5 280.88,480.43 281.15,480.27 281.43,480.06 281.7,479.84 281.98,479.68 282.25,479.61 282.55,479.63 282.85,479.67 283.15,479.71 283.45,479.76 283.7,479.79 283.96,479.82 284.21,479.85 284.47,479.88 284.72,479.89 285.02,479.88 285.32,479.85 285.62,479.83 285.92,479.82 286.19,479.93 286.46,480.16 286.73,480.39 287,480.5 287.26,480.5 287.53,480.5 287.79,480.5 288.06,480.5 288.32,480.5 288.57,480.41 288.82,480.2 289.07,479.94 289.32,479.72 289.57,479.63 289.88,479.86 290.18,480.28 290.49,480.5 290.75,480.5 291,480.5 291.26,480.5 291.52,480.5 291.77,480.5 292.03,480.5 292.3,480.37 292.58,480.09 292.86,479.82 293.13,479.69 293.41,479.77 293.68,479.97 293.96,480.21 294.23,480.42 294.51,480.5 294.83,480.5 295.14,480.5 295.46,480.5 295.75,480.38 296.03,480.11 296.31,479.84 296.6,479.72 296.87,479.73 297.13,479.76 297.4,479.79 297.67,479.84 297.93,479.88 298.2,479.93 298.47,479.96 298.73,479.99 299,480 299.26,479.64 299.52,478.77 299.78,477.73 300.04,476.86 300.3,476.5 300.65,477.25 301,478 301.35,476.5 301.7,475 301.98,475.62 302.25,477 302.52,478.38 302.8,479 303.06,477.95 303.32,475.44 303.58,472.46 303.84,469.95 304.1,468.9 304.38,470.09 304.65,472.7 304.93,475.31 305.2,476.5 305.47,475.76 305.73,473.77 306,470.9 306.27,467.49 306.53,463.91 306.8,460.5 307.07,457.63 307.33,455.64 307.6,454.9 307.85,455.98 308.1,458.69 308.35,462.2 308.6,465.71 308.85,468.42 309.1,469.5 309.35,468.33 309.6,465.25 309.85,460.89 310.1,455.9 310.35,450.91 310.6,446.55 310.85,443.47 311.1,442.3 311.38,444.31 311.67,449.35 311.95,455.9 312.23,462.45 312.52,467.49 312.8,469.5 313.07,468.15 313.33,464.78 313.6,460.4 313.87,456.02 314.13,452.65 314.4,451.3 314.67,453.43 314.93,458.74 315.2,465.65 315.47,472.56 315.73,477.87 316,480 316.25,479.78 316.5,479.22 316.75,478.5 317,477.78 317.25,477.22 317.5,477 317.75,477.47 318,478.5 318.25,479.53 318.5,480 318.75,480 319,480 319.25,480 319.5,480 319.75,480 320,480 320.25,480 320.5,480 320.75,480 321,480 321.25,480 321.5,480 321.75,480 322,480 322.25,480 322.5,480 322.75,480 323,480 323.25,479.12 323.5,476.91 323.75,474.05 324,471.19 324.25,468.98 324.5,468.1 324.8,469.65 325.1,473.05 325.4,476.45 325.7,478 325.97,476.75 326.24,473.34 326.51,468.32 326.78,462.23 327.05,455.6 327.32,448.97 327.59,442.88 327.86,437.86 328.13,434.45 328.4,433.2 328.7,441.64 329,454.3 329.25,461.8 329.5,469.16 329.75,474.77 330,477 330.27,476.31 330.53,474.59 330.8,472.35 331.07,470.11 331.33,468.39 331.6,467.7 331.88,469.15 332.15,472.35 332.43,475.55 332.7,477 333,475.47 333.3,472.1 333.6,468.73 333.9,467.2 334.16,467.74 334.41,469.14 334.67,471.06 334.93,473.14 335.19,475.06 335.44,476.46 335.7,477 335.98,476.14 336.27,473.99 336.55,471.2 336.83,468.41 337.12,466.26 337.4,465.4 337.65,466.26 337.9,468.41 338.15,471.2 338.4,473.99 338.65,476.14 338.9,477 339.18,476.43 339.47,475 339.75,473.15 340.03,471.3 340.32,469.87 340.6,469.3 340.88,469.94 341.17,471.56 341.45,473.65 341.73,475.74 342.02,477.36 342.3,478 342.57,477.81 342.83,477.33 343.1,476.7 343.37,476.07 343.63,475.59 343.9,475.4 344.16,475.56 344.41,475.98 344.67,476.59 344.92,477.32 345.18,478.08 345.43,478.81 345.69,479.42 345.94,479.84 346.2,480 346.46,479.98 346.71,479.94 346.97,479.86 347.23,479.77 347.48,479.65 347.74,479.53 347.99,479.39 348.25,479.25 348.51,479.11 348.76,478.97 349.02,478.85 349.27,478.73 349.53,478.64 349.79,478.56 350.04,478.52 350.3,478.5 350.6,478.73 350.9,479.25 351.2,479.77 351.5,480 351.75,480 352,480 352.25,480 352.5,480 352.75,480 353,480 353.25,480 353.5,480 353.75,480 354,480 354.25,480 354.5,480 354.75,480 355,480 355.25,480 355.5,480 355.75,480 356,480 356.25,480 356.5,480 356.75,480 357,480 357.25,480 357.5,480 357.75,480 358,480 358.25,480 358.5,480 358.75,480 359,480 359.25,480 359.5,480 359.75,480 360,480 360.25,480 360.5,480 360.75,480 361,480 361.25,480 361.5,480 361.75,480 362,480 362.25,480 362.5,480 362.75,480 363,480 363.25,480 363.5,480 363.75,480 364,480 364.25,480 364.5,480 364.75,480 365,480 365.25,480 365.5,480 365.75,480 366,480 366.25,480 366.5,480 366.75,480 367,480 367.25,480 367.5,480 367.75,480 368,480 368.25,480 368.5,480 368.75,480 369,480 369.25,480 369.5,480 369.75,480 370,480 370.25,480 370.5,480 370.75,480 371,480 371.25,480 371.5,480 371.75,479.78 372,479.22 372.25,478.5 372.5,477.78 372.75,477.22 373,477 373.25,477.22 373.5,477.78 373.75,478.5 374,479.22 374.25,479.78 374.5,480 374.75,480 375,480 375.25,480 375.5,480 375.75,480 376,480 376.25,480 376.5,480 376.75,480 377,480 377.25,480 377.5,480 377.75,480 378,480 378.25,480 378.5,480 378.75,480 379,480 379.25,480 379.5,480 379.75,480 380,480 380.25,480 380.5,480 380.75,480 381,480 381.25,480 381.5,480 381.75,480 382,480 382.25,480 382.5,480 382.75,480 383,480 383.25,480 383.5,480 383.75,480 384,480 384.25,480 384.5,480 384.75,480 385,480 385.25,480 385.5,480 385.75,480 386,480 386.25,480 386.5,480 386.75,480 387,480 387.28,479.79 387.56,479.3 387.84,478.7 388.12,478.21 388.4,478 388.67,478.15 388.93,478.52 389.2,479 389.47,479.48 389.73,479.85 390,480 390.25,480 390.5,480 390.75,480 391,480 391.25,480 391.5,480 391.75,480 392,480 392.25,480 392.5,480 392.75,480 393,480 393.25,480 393.5,480 393.75,480 394,480 394.25,480 394.5,480 394.75,480 395,480 395.25,480 395.5,480 395.75,480 396,480 396.25,480 396.5,480 396.75,480 397,480 397.25,480 397.5,480 397.75,480 398,480 398.25,480 398.5,480 398.75,480 399,480 399.25,480 399.5,480 399.75,480 400,480 400.25,480 400.5,480 400.75,480 401,480 401.25,480 401.5,480 401.75,480 402,480 402.25,480 402.5,480 402.75,480 403,480 403.25,480 403.5,480 403.75,480 404,480 404.25,480 404.5,480 404.75,480 405,480 405.25,480 405.5,480 405.75,480 406,480 406.25,480 406.5,480 406.75,480 407,480 407.25,480 407.5,480 407.75,480 408,480 408.25,480 408.5,480 408.75,480 409,480 409.25,480 409.5,480 409.75,480 410,480 410.25,480 410.5,480 410.75,480 411,480 411.25,480 411.5,480 411.75,480 412,480 412.25,480 412.5,480 412.75,480 413,480 413.25,480 413.5,480 413.75,480 414,480 414.25,480 414.5,480 414.75,480 415,480 415.25,480 415.5,480 415.75,480 416,480 416.25,480 416.5,480 416.75,480 417,480 417.25,480 417.5,480 417.75,480 418,480 418.25,480 418.5,480 418.75,480 419,480 419.25,480 419.5,480 419.75,480 420,480 420.25,480 420.5,480 420.75,480 421,480 421.25,480 421.5,480 421.75,480 422,480 422.25,480 422.5,480 422.75,480 423,480 423.25,480 423.5,480 423.75,480 424,480 424.25,480 424.5,480 424.75,480 425,480 425.25,480 425.5,480 425.75,480 426,480 426.25,480 426.5,480 426.75,480 427,480 427.25,479.98 427.5,479.91 427.75,479.81 428,479.69 428.25,479.55 428.5,479.4 428.75,479.25 429,479.11 429.25,478.99 429.5,478.89 429.75,478.82 430,478.8 430.25,478.8 430.5,478.8 430.75,478.81 431,478.81 431.25,478.82 431.5,478.83 431.75,478.84 432,478.85 432.25,478.86 432.5,478.88 432.75,478.89 433,478.9 433.25,478.91 433.5,478.92 433.75,478.94 434,478.95 434.25,478.96 434.5,478.97 434.75,478.98 435,478.99 435.25,478.99 435.5,479 435.75,479 436,479 436.25,479 436.5,478.99 436.75,478.98 437,478.96 437.25,478.94 437.5,478.91 437.75,478.89 438,478.86 438.25,478.83 438.5,478.8 438.75,478.77 439,478.74 439.25,478.71 439.5,478.69 439.75,478.66 440,478.64 440.25,478.62 440.5,478.61 440.75,478.6 441,478.6 441.25,478.61 441.51,478.62 441.76,478.65 442.02,478.69 442.27,478.74 442.52,478.79 442.78,478.85 443.03,478.92 443.28,478.99 443.54,479.06 443.79,479.14 444.05,479.22 444.3,479.3 444.55,479.38 444.81,479.46 445.06,479.54 445.32,479.61 445.57,479.68 445.82,479.75 446.08,479.81 446.33,479.86 446.58,479.91 446.84,479.95 447.09,479.98 447.35,479.99 447.6,480 447.85,480 448.11,480 448.36,480 448.61,480 448.86,480 449.12,480 449.37,480 449.62,480 449.87,480 450.13,480 450.38,480 450.63,480 450.89,480 451.14,480 451.39,480 451.64,480 451.9,480 452.15,480 452.4,480 452.65,480 452.91,480 453.16,480 453.41,480 453.67,480 453.92,480 454.17,480 454.42,480 454.68,480 454.93,480 455.18,480 455.43,480 455.69,480 455.94,480 456.19,480 456.45,480 456.7,480 456.95,480 457.2,480 457.46,480 457.71,480 457.96,480 458.21,480 458.47,480 458.72,480 458.97,480 459.23,480 459.48,480 459.73,480 459.98,480 460.24,480 460.49,480 460.74,480 460.99,480 461.25,480 461.5,480 461.75,479.85 462,479.48 462.25,479 462.5,478.52 462.75,478.15 463,478 463.25,478.15 463.5,478.52 463.75,479 464,479.48 464.25,479.85 464.5,480 464.75,480 465,480 465.25,480 465.5,480 465.75,480 466,480 466.25,480 466.5,480 466.75,480 467,480 467.25,480 467.5,480 467.75,480 468,480 468.25,480 468.5,480 468.75,480 469,480 469.25,480 469.5,480 469.75,480 470,480 470.25,480 470.5,480 470.75,480 471,480 471.25,480 471.5,480 471.75,480 472,480 472.25,480 472.5,480 472.75,480 473,480 473.25,480 473.5,480 473.75,480 474,480 474.25,480 474.5,480 474.75,480 475,480 475.25,480 475.5,480 475.75,480 476,480 476.25,480 476.5,480 476.75,480 477,480 477.25,480 477.5,480 477.75,480 478,480 478.25,480 478.5,480 478.75,480 479,480 479.25,480 479.5,480 479.75,480 480,480 480.25,480 480.5,480 480.75,480 481,480 481.25,480 481.5,480 481.75,480 482,480 482.25,480 482.5,480 482.75,480 483,480 483.25,480 483.5,480 483.75,480 484,480 484.25,480 484.5,480 484.75,480 485,480 485.25,480 485.5,480 485.75,480 486,480 486.25,480 486.5,480 486.75,480 487,480 487.25,480 487.5,480 487.75,480 488,480 488.25,480 488.5,480 488.75,480 489,480 489.25,480 489.5,480 489.75,480 490,480 490.25,480 490.5,480 490.75,480 491,480 491.25,480 491.5,480 491.75,480 492,480 492.25,480 492.5,480 492.75,480 493,480 493.25,480 493.5,480 493.75,480 494,480 494.25,480 494.5,480 494.75,480 495,480 495.25,480 495.5,480 495.75,480 496,480 496.25,480 496.5,480 496.75,480 497,480 497.25,480 497.5,480 497.75,480 498,480 498.25,480 498.5,480 498.75,480 499,480 499.25,480 499.5,480 499.75,480 500,480 500.25,480 500.5,480 500.75,480 501,480 501.25,480 501.5,480 501.75,480 502,480 502.25,480 502.5,480 502.75,480 503,480 503.25,480 503.5,480 503.75,480 504,480 504.25,480 504.5,480 504.75,480 505,480 505.25,480 505.5,480 505.75,480 506,480 506.25,480 506.5,480 506.75,480 507,480 507.25,480 507.5,480 507.75,480 508,480 508.25,480 508.5,480 508.75,480 509,480 509.25,480 509.5,480 509.75,480 510,480 510.25,480 510.5,480 510.75,480 511,480 511.25,480 511.5,480 511.75,480 512,480 512.25,480 512.5,480 512.75,480 513,480 513.25,480 513.5,480 513.75,480 514,480 514.25,480 514.5,480 514.75,480 515,480 515.25,480 515.5,480 515.75,480 516,480 516.25,480 516.5,480 516.75,480 517,480 517.25,480 517.5,480 517.75,480 518,480 518.25,480 518.5,480 518.75,480 519,480 519.25,480 519.5,480 519.75,480 520,480 520.25,480 520.5,480 520.75,480 521,480 521.25,480 521.5,480 521.75,480 522,480 522.25,480 522.5,480 522.75,480 523,480 523.25,480 523.5,480 523.75,480 524,480 524.25,480 524.5,480 524.75,480 525,480 525.25,480 525.5,480 525.75,480 526,480 526.25,480 526.5,480 526.75,480 527,480 527.25,480 527.5,480 527.75,480 528,480 528.25,480 528.5,480 528.75,480 529,480 529.25,480 529.5,480 529.75,480 530,480 530.25,480 530.5,480 530.75,480 531,480 531.25,480 531.5,480 531.75,480 532,480 532.25,479.98 532.5,479.93 532.75,479.84 533,479.74 533.25,479.62 533.5,479.5 533.75,479.38 534,479.26 534.25,479.16 534.5,479.07 534.75,479.02 535,479 535.25,479 535.5,479 535.75,479 536,479 536.25,479 536.5,479.01 536.75,479.01 537,479.01 537.25,479.01 537.5,479.02 537.75,479.02 538,479.02 538.25,479.03 538.5,479.03 538.75,479.04 539,479.04 539.25,479.05 539.5,479.05 539.75,479.06 540,479.06 540.25,479.07 540.5,479.07 540.75,479.08 541,479.08 541.25,479.09 541.5,479.1 541.75,479.1 542,479.11 542.25,479.12 542.5,479.12 542.75,479.13 543,479.14 543.25,479.15 543.5,479.15 543.75,479.16 544,479.17 544.25,479.18 544.5,479.18 544.75,479.19 545,479.2 545.25,479.21 545.5,479.22 545.76,479.23 546.01,479.25 546.26,479.26 546.51,479.28 546.77,479.3 547.02,479.32 547.27,479.34 547.52,479.36 547.78,479.38 548.03,479.41 548.28,479.43 548.53,479.46 548.79,479.48 549.04,479.51 549.29,479.53 549.54,479.56 549.8,479.59 550.05,479.61 550.3,479.64 550.55,479.67 550.8,479.69 551.06,479.72 551.31,479.75 551.56,479.77 551.81,479.79 552.07,479.82 552.32,479.84 552.57,479.86 552.82,479.88 553.08,479.9 553.33,479.92 553.58,479.93 553.83,479.95 554.09,479.96 554.34,479.97 554.59,479.98 554.84,479.99 555.1,480 555.35,480 555.6,480 555.85,480 556.1,480 556.35,480 556.6,480 556.85,480 557.1,480 557.35,480 557.61,480 557.86,480 558.11,480 558.36,480 558.61,480 558.86,480 559.11,480 559.36,480 559.61,480 559.86,480 560.11,480 560.36,480 560.61,480 560.86,480 561.11,480 561.36,480 561.62,480 561.87,480 562.12,480 562.37,480 562.62,480 562.87,480 563.12,480 563.37,480 563.62,480 563.87,480 564.12,480 564.37,480 564.62,480 564.87,480 565.12,480 565.37,480 565.63,480 565.88,480 566.13,480 566.38,480 566.63,480 566.88,480 567.13,480 567.38,480 567.63,480 567.88,480 568.13,480 568.38,480 568.63,480 568.88,480 569.13,480 569.38,480 569.64,480 569.89,480 570.14,480 570.39,480 570.64,480 570.89,480 571.14,480 571.39,480 571.64,480 571.89,480 572.14,480 572.39,480 572.64,480 572.89,480 573.14,480 573.39,480 573.65,480 573.9,480 574.15,480 574.4,480 574.65,480 574.9,480 575.15,480 575.4,480 575.65,480 575.9,480 576.15,480 576.4,480 576.65,480 576.9,480 577.15,480 577.41,480 577.66,480 577.91,480 578.16,480 578.41,480 578.66,480 578.91,480 579.16,480 579.41,480 579.66,480 579.91,480 580.16,480 580.41,480 580.66,480 580.91,480 581.16,480 581.42,480 581.67,480 581.92,480 582.17,480 582.42,480 582.67,480 582.92,480 583.17,480 583.42,480 583.67,480 583.92,480 584.17,480 584.42,480 584.67,480 584.92,480 585.17,480 585.43,480 585.68,480 585.93,480 586.18,480 586.43,480 586.68,480 586.93,480 587.18,480 587.43,480 587.68,480 587.93,480 588.18,480 588.43,480 588.68,480 588.93,480 589.18,480 589.44,480 589.69,480 589.94,480 590.19,480 590.44,480 590.69,480 590.94,480 591.19,480 591.44,480 591.69,480 591.94,480 592.19,480 592.44,480 592.69,480 592.94,480 593.19,480 593.45,480 593.7,480 593.95,480 594.2,480 594.45,480 594.7,480 594.95,480 595.2,480 595.45,480 595.7,480 595.95,480 596.2,480 596.45,480 596.7,480 596.95,480 597.21,480 597.46,480 597.71,480 597.96,480 598.21,480 598.46,480 598.71,480 598.96,480 599.21,480 599.46,480 599.71,480 599.96,480 600.21,480 600.46,480 600.71,480 600.96,480 601.22,480 601.47,480 601.72,480 601.97,480 602.22,480 602.47,480 602.72,480 602.97,480 603.22,480 603.47,480 603.72,480 603.97,480 604.22,480 604.47,480 604.72,480 604.97,480 605.23,480 605.48,480 605.73,480 605.98,480 606.23,480 606.48,480 606.73,480 606.98,480 607.23,480 607.48,480 607.73,480 607.98,480 608.23,480 608.48,480 608.73,480 608.98,480 609.24,480 609.49,480 609.74,480 609.99,480 610.24,480 610.49,480 610.74,480 610.99,480 611.24,480 611.49,480 611.74,480 611.99,480 612.24,480 612.49,480 612.74,480 612.99,480 613.25,480 613.5,480 613.75,480 614,480 614.25,480 614.5,480 614.75,480 615,480 615.26,479.74 615.52,479.12 615.78,478.38 616.04,477.76 616.3,477.5 616.55,477.69 616.8,478.15 617.05,478.75 617.3,479.35 617.55,479.81 617.8,480 618.05,480 618.3,480 618.56,480 618.81,480 619.06,480 619.31,480 619.57,480 619.82,480 620.07,480 620.32,480 620.57,480 620.83,480 621.08,480 621.33,480 621.58,480 621.84,480 622.09,480 622.34,480 622.59,480 622.85,480 623.1,480 623.35,480 623.6,480 623.85,480 624.11,480 624.36,480 624.61,480 624.86,480 625.12,480 625.37,480 625.62,480 625.87,480 626.12,480 626.38,480 626.63,480 626.88,480 627.13,480 627.39,480 627.64,480 627.89,480 628.14,480 628.4,480 628.65,480 628.9,480 629.15,480 629.4,480 629.66,480 629.91,480 630.16,480 630.41,480 630.67,480 630.92,480 631.17,480 631.42,480 631.67,480 631.93,480 632.18,480 632.43,480 632.68,480 632.94,480 633.19,480 633.44,480 633.69,480 633.95,480 634.2,480 634.45,480 634.7,480 634.95,480 635.21,480 635.46,480 635.71,480 635.96,480 636.22,480 636.47,480 636.72,480 636.97,480 637.23,480 637.48,480 637.73,480 637.98,480 638.23,480 638.49,480 638.74,480 638.99,480 639.24,480 639.5,480 639.75,480 640,480" fill="none" stroke="#2a2a2a" stroke-width="0.75" stroke-linejoin="miter" stroke-miterlimit="20"/><rect x="40" y="479.7" width="689" height="1" fill="#5c5c5c"/><rect x="104.05" y="480.2" width="0.9" height="2.2" fill="#808080"/><rect x="96.75" y="482.85" width="17" height="7.1" rx="1.2" fill="#fff" stroke="#808080" stroke-width="0.9"/><text x="105.25" y="488" font-size="5" fill="#1a1a1a" stroke="#1a1a1a" stroke-width="0.05" text-anchor="middle">106.79</text><rect x="125.35" y="480.2" width="0.9" height="2.2" fill="#808080"/><rect x="118.05" y="482.85" width="17" height="7.1" rx="1.2" fill="#fff" stroke="#808080" stroke-width="0.9"/><text x="126.55" y="488" font-size="5" fill="#1a1a1a" stroke="#1a1a1a" stroke-width="0.05" text-anchor="middle">112.32</text><rect x="166.75" y="480.2" width="0.9" height="2.2" fill="#808080"/><rect x="159.45" y="482.85" width="17" height="7.1" rx="1.2" fill="#fff" stroke="#808080" stroke-width="0.9"/><text x="167.95" y="488" font-size="5" fill="#1a1a1a" stroke="#1a1a1a" stroke-width="0.05" text-anchor="middle">125.36</text><rect x="190.15" y="480.2" width="0.9" height="2.2" fill="#808080"/><rect x="182.85" y="482.85" width="17" height="7.1" rx="1.2" fill="#fff" stroke="#808080" stroke-width="0.9"/><text x="191.35" y="488" font-size="5" fill="#1a1a1a" stroke="#1a1a1a" stroke-width="0.05" text-anchor="middle">129.53</text><rect x="310.15" y="480.2" width="0.9" height="2.2" fill="#808080"/><rect x="302.75" y="482.85" width="17" height="7.1" rx="1.2" fill="#fff" stroke="#808080" stroke-width="0.9"/><text x="311.25" y="488" font-size="5" fill="#1a1a1a" stroke="#1a1a1a" stroke-width="0.05" text-anchor="middle">160.70</text><rect x="336.95" y="480.2" width="0.9" height="2.2" fill="#808080"/><rect x="329.55" y="482.85" width="17" height="7.1" rx="1.2" fill="#fff" stroke="#808080" stroke-width="0.9"/><text x="338.05" y="488" font-size="5" fill="#1a1a1a" stroke="#1a1a1a" stroke-width="0.05" text-anchor="middle">167.32</text>
<rect x="5" y="23" width="2" height="317" fill="#9a9a9a"/>
<rect x="5" y="340" width="1" height="159" fill="#9a9a9a"/>
</svg></body></html>
